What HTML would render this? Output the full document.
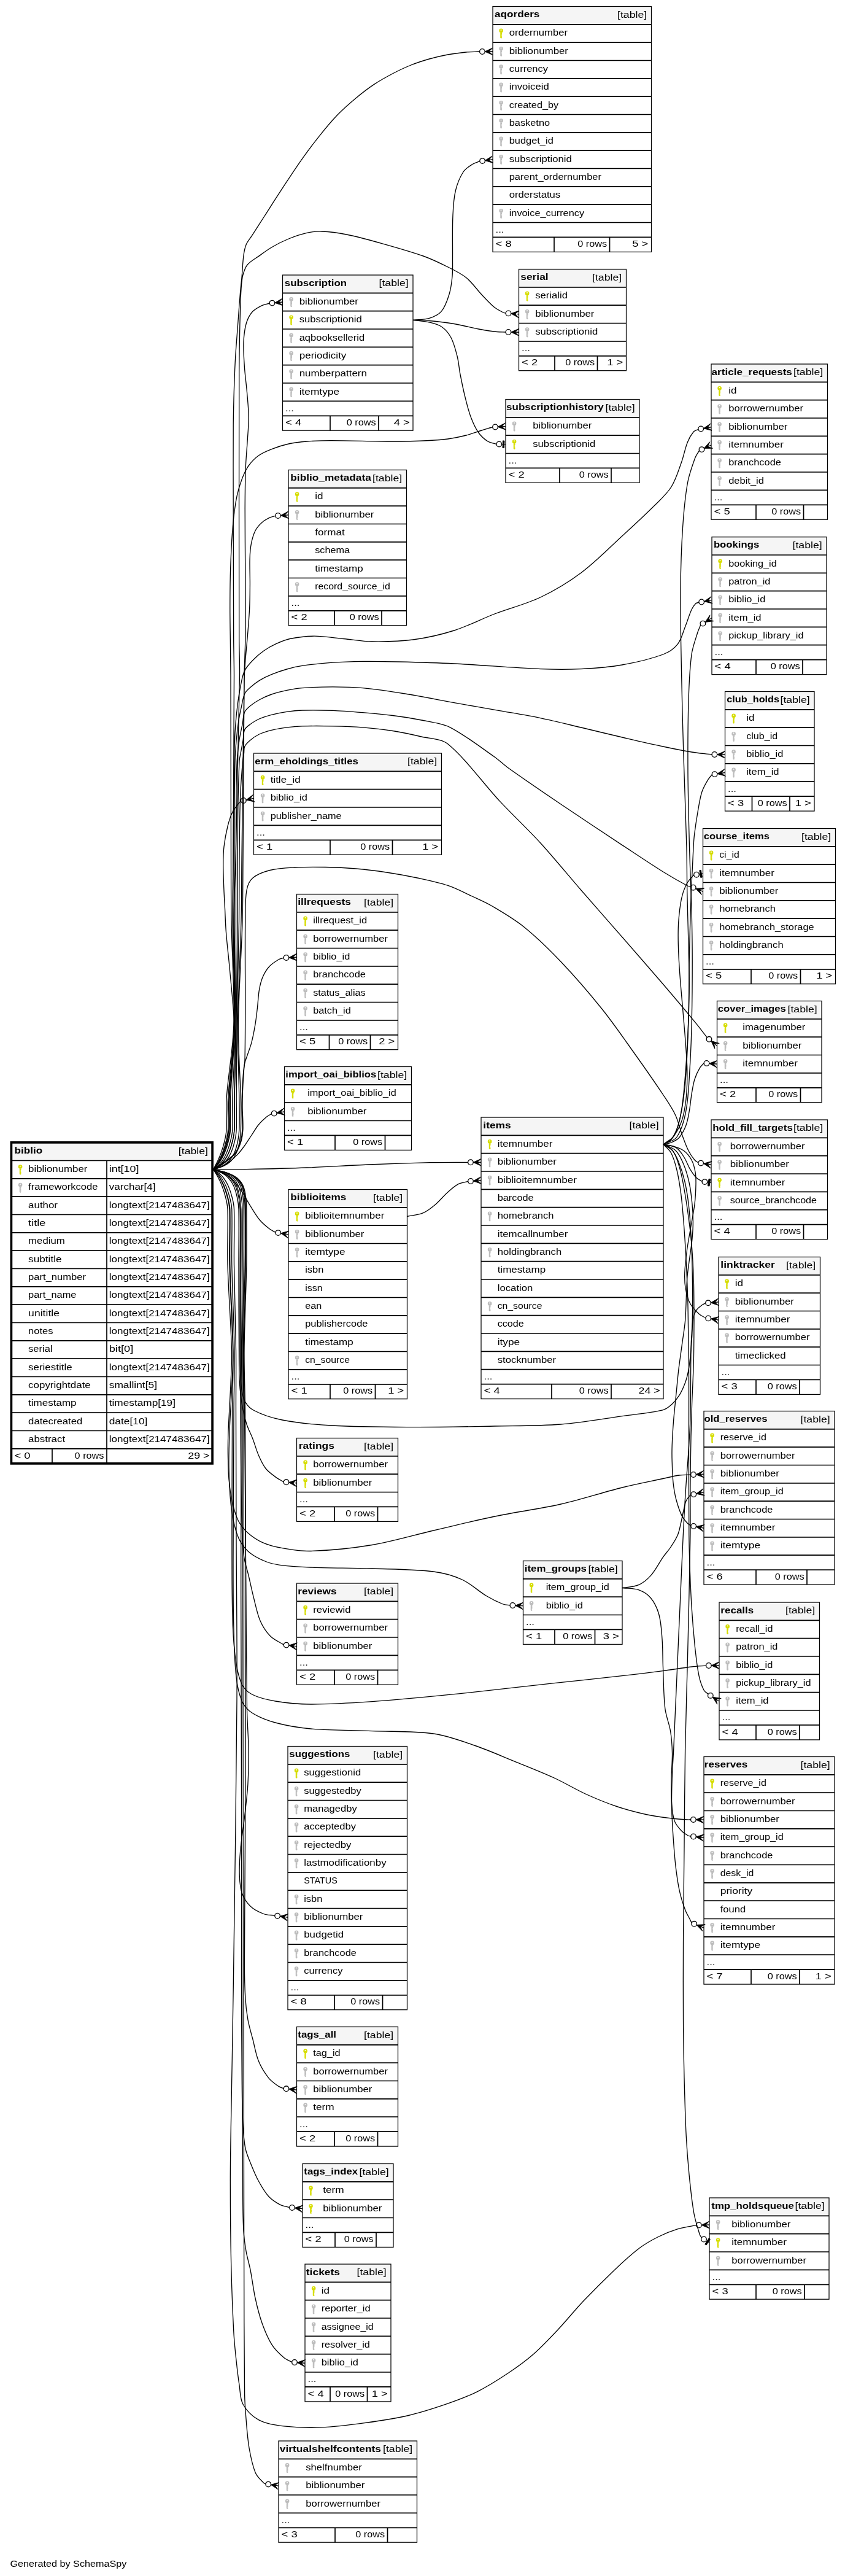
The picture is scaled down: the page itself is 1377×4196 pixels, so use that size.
<!DOCTYPE html>
<html><head><meta charset="utf-8"><title>biblio</title>
<style>html,body{margin:0;padding:0;background:#fff}svg{display:block;will-change:transform}text{font-family:"Liberation Sans",sans-serif;font-size:15.2px;fill:#000}.b{font-weight:bold}.s{fill:none;stroke:#000;stroke-width:1.7}.o{fill:none;stroke:#000;stroke-width:1.25}.e{fill:none;stroke:#000;stroke-width:1.33}.a{fill:#000;stroke:#000;stroke-width:1;stroke-linejoin:miter}.c{fill:none;stroke:#000;stroke-width:1.33}</style></head><body>
<svg width="1377" height="4196" viewBox="0 0 1377 4196">
<rect width="1377" height="4196" fill="#fff"/>
<g>
<rect x="18.5" y="1861.2" width="327.5" height="522.7" fill="#fff"/>
<rect x="18.5" y="1861.2" width="327.5" height="29.3" fill="#f5f5f5"/>
<path class="s" d="M18.5 1890.5H346M18.5 1919.9H346M18.5 1949.2H346M18.5 1978.5H346M18.5 2007.9H346M18.5 2037.2H346M18.5 2066.5H346M18.5 2095.9H346M18.5 2125.2H346M18.5 2154.5H346M18.5 2183.9H346M18.5 2213.2H346M18.5 2242.5H346M18.5 2271.9H346M18.5 2301.2H346M18.5 2330.5H346M18.5 2359.9H346M174 1890.5V2383.9M85 2359.9V2383.9"/>
<rect x="18.4" y="1860.9" width="327.7" height="523" fill="none" stroke="#000" stroke-width="3.7"/>
<text class="b" x="23.5" y="1879" textLength="45.7" lengthAdjust="spacingAndGlyphs">biblio</text>
<text class="r" x="290.8" y="1879.8" textLength="48.2" lengthAdjust="spacingAndGlyphs">[table]</text>
<path fill="#d6dd00" d="M29.8 1900.6a3.3 3.3 0 1 1 6.6 0a3.3 3.3 0 1 1-6.6 0zm2.25-1a.95.95 0 1 0 1.9 0a.95.95 0 1 0-1.9 0zm-.3 3.4h2.7v3.2h-.7v.8h.7v1.3h-.7v.8h.7v1.3h-.7v.8h.7v1.2l-1.1 1.1l-1.6-1.1z"/>
<text class="r" x="46.1" y="1909" textLength="96.3" lengthAdjust="spacingAndGlyphs">biblionumber</text>
<text class="r" x="177.7" y="1909" textLength="48.8" lengthAdjust="spacingAndGlyphs">int[10]</text>
<path fill="#bdbdbd" d="M29.8 1930a3.3 3.3 0 1 1 6.6 0a3.3 3.3 0 1 1-6.6 0zm2.25-1a.95.95 0 1 0 1.9 0a.95.95 0 1 0-1.9 0zm-.3 3.4h2.7v3.2h-.7v.8h.7v1.3h-.7v.8h.7v1.3h-.7v.8h.7v1.2l-1.1 1.1l-1.6-1.1z"/>
<text class="r" x="46.1" y="1938.4" textLength="113.4" lengthAdjust="spacingAndGlyphs">frameworkcode</text>
<text class="r" x="177.7" y="1938.4" textLength="75.9" lengthAdjust="spacingAndGlyphs">varchar[4]</text>
<text class="r" x="46.1" y="1967.7" textLength="47.9" lengthAdjust="spacingAndGlyphs">author</text>
<text class="r" x="177.7" y="1967.7" textLength="164" lengthAdjust="spacingAndGlyphs">longtext[2147483647]</text>
<text class="r" x="46.1" y="1997" textLength="28.4" lengthAdjust="spacingAndGlyphs">title</text>
<text class="r" x="177.7" y="1997" textLength="164" lengthAdjust="spacingAndGlyphs">longtext[2147483647]</text>
<text class="r" x="46.1" y="2026.4" textLength="59.8" lengthAdjust="spacingAndGlyphs">medium</text>
<text class="r" x="177.7" y="2026.4" textLength="164" lengthAdjust="spacingAndGlyphs">longtext[2147483647]</text>
<text class="r" x="46.1" y="2055.7" textLength="54.5" lengthAdjust="spacingAndGlyphs">subtitle</text>
<text class="r" x="177.7" y="2055.7" textLength="164" lengthAdjust="spacingAndGlyphs">longtext[2147483647]</text>
<text class="r" x="46.1" y="2085" textLength="93.9" lengthAdjust="spacingAndGlyphs">part_number</text>
<text class="r" x="177.7" y="2085" textLength="164" lengthAdjust="spacingAndGlyphs">longtext[2147483647]</text>
<text class="r" x="46.1" y="2114.4" textLength="78.4" lengthAdjust="spacingAndGlyphs">part_name</text>
<text class="r" x="177.7" y="2114.4" textLength="164" lengthAdjust="spacingAndGlyphs">longtext[2147483647]</text>
<text class="r" x="46.1" y="2143.7" textLength="50.9" lengthAdjust="spacingAndGlyphs">unititle</text>
<text class="r" x="177.7" y="2143.7" textLength="164" lengthAdjust="spacingAndGlyphs">longtext[2147483647]</text>
<text class="r" x="46.1" y="2173" textLength="40.4" lengthAdjust="spacingAndGlyphs">notes</text>
<text class="r" x="177.7" y="2173" textLength="164" lengthAdjust="spacingAndGlyphs">longtext[2147483647]</text>
<text class="r" x="46.1" y="2202.4" textLength="39.5" lengthAdjust="spacingAndGlyphs">serial</text>
<text class="r" x="177.7" y="2202.4" textLength="39.6" lengthAdjust="spacingAndGlyphs">bit[0]</text>
<text class="r" x="46.1" y="2231.7" textLength="71.5" lengthAdjust="spacingAndGlyphs">seriestitle</text>
<text class="r" x="177.7" y="2231.7" textLength="164" lengthAdjust="spacingAndGlyphs">longtext[2147483647]</text>
<text class="r" x="46.1" y="2261" textLength="101.7" lengthAdjust="spacingAndGlyphs">copyrightdate</text>
<text class="r" x="177.7" y="2261" textLength="78.3" lengthAdjust="spacingAndGlyphs">smallint[5]</text>
<text class="r" x="46.1" y="2290.4" textLength="78.5" lengthAdjust="spacingAndGlyphs">timestamp</text>
<text class="r" x="177.7" y="2290.4" textLength="108.3" lengthAdjust="spacingAndGlyphs">timestamp[19]</text>
<text class="r" x="46.1" y="2319.7" textLength="88.2" lengthAdjust="spacingAndGlyphs">datecreated</text>
<text class="r" x="177.7" y="2319.7" textLength="62.7" lengthAdjust="spacingAndGlyphs">date[10]</text>
<text class="r" x="46.1" y="2349" textLength="60" lengthAdjust="spacingAndGlyphs">abstract</text>
<text class="r" x="177.7" y="2349" textLength="164" lengthAdjust="spacingAndGlyphs">longtext[2147483647]</text>
<text class="r" x="23.5" y="2376.2" textLength="26.1" lengthAdjust="spacingAndGlyphs">&lt; 0</text>
<text class="r" x="121.6" y="2376.2" textLength="47.9" lengthAdjust="spacingAndGlyphs">0 rows</text>
<text class="r" x="306.2" y="2376.2" textLength="35.3" lengthAdjust="spacingAndGlyphs">29 &gt;</text>
</g>
<g>
<rect x="803" y="10.5" width="258.5" height="399.9" fill="#fff"/>
<rect x="803" y="10.5" width="258.5" height="29.3" fill="#f5f5f5"/>
<path class="s" d="M803 39.8H1061.5M803 69.2H1061.5M803 98.5H1061.5M803 127.8H1061.5M803 157.2H1061.5M803 186.5H1061.5M803 215.8H1061.5M803 245.2H1061.5M803 274.5H1061.5M803 303.8H1061.5M803 333.2H1061.5M803 362.5H1061.5M803 386.4H1061.5M903 386.4V410.4M993.5 386.4V410.4"/>
<rect class="o" x="803" y="10.5" width="258.5" height="399.9"/>
<text class="b" x="806.1" y="28.1" textLength="73.3" lengthAdjust="spacingAndGlyphs">aqorders</text>
<text class="r" x="1006" y="28.9" textLength="48.2" lengthAdjust="spacingAndGlyphs">[table]</text>
<path fill="#d6dd00" d="M813.3 49.9a3.3 3.3 0 1 1 6.6 0a3.3 3.3 0 1 1-6.6 0zm2.25-1a.95.95 0 1 0 1.9 0a.95.95 0 1 0-1.9 0zm-.3 3.4h2.7v3.2h-.7v.8h.7v1.3h-.7v.8h.7v1.3h-.7v.8h.7v1.2l-1.1 1.1l-1.6-1.1z"/>
<text class="r" x="829.7" y="58.3" textLength="95.3" lengthAdjust="spacingAndGlyphs">ordernumber</text>
<path fill="#bdbdbd" d="M813.3 79.3a3.3 3.3 0 1 1 6.6 0a3.3 3.3 0 1 1-6.6 0zm2.25-1a.95.95 0 1 0 1.9 0a.95.95 0 1 0-1.9 0zm-.3 3.4h2.7v3.2h-.7v.8h.7v1.3h-.7v.8h.7v1.3h-.7v.8h.7v1.2l-1.1 1.1l-1.6-1.1z"/>
<text class="r" x="829.7" y="87.7" textLength="96.3" lengthAdjust="spacingAndGlyphs">biblionumber</text>
<path fill="#bdbdbd" d="M813.3 108.6a3.3 3.3 0 1 1 6.6 0a3.3 3.3 0 1 1-6.6 0zm2.25-1a.95.95 0 1 0 1.9 0a.95.95 0 1 0-1.9 0zm-.3 3.4h2.7v3.2h-.7v.8h.7v1.3h-.7v.8h.7v1.3h-.7v.8h.7v1.2l-1.1 1.1l-1.6-1.1z"/>
<text class="r" x="829.7" y="117" textLength="63.4" lengthAdjust="spacingAndGlyphs">currency</text>
<path fill="#bdbdbd" d="M813.3 137.9a3.3 3.3 0 1 1 6.6 0a3.3 3.3 0 1 1-6.6 0zm2.25-1a.95.95 0 1 0 1.9 0a.95.95 0 1 0-1.9 0zm-.3 3.4h2.7v3.2h-.7v.8h.7v1.3h-.7v.8h.7v1.3h-.7v.8h.7v1.2l-1.1 1.1l-1.6-1.1z"/>
<text class="r" x="829.7" y="146.3" textLength="65" lengthAdjust="spacingAndGlyphs">invoiceid</text>
<path fill="#bdbdbd" d="M813.3 167.3a3.3 3.3 0 1 1 6.6 0a3.3 3.3 0 1 1-6.6 0zm2.25-1a.95.95 0 1 0 1.9 0a.95.95 0 1 0-1.9 0zm-.3 3.4h2.7v3.2h-.7v.8h.7v1.3h-.7v.8h.7v1.3h-.7v.8h.7v1.2l-1.1 1.1l-1.6-1.1z"/>
<text class="r" x="829.7" y="175.7" textLength="80.5" lengthAdjust="spacingAndGlyphs">created_by</text>
<path fill="#bdbdbd" d="M813.3 196.6a3.3 3.3 0 1 1 6.6 0a3.3 3.3 0 1 1-6.6 0zm2.25-1a.95.95 0 1 0 1.9 0a.95.95 0 1 0-1.9 0zm-.3 3.4h2.7v3.2h-.7v.8h.7v1.3h-.7v.8h.7v1.3h-.7v.8h.7v1.2l-1.1 1.1l-1.6-1.1z"/>
<text class="r" x="829.7" y="205" textLength="66.4" lengthAdjust="spacingAndGlyphs">basketno</text>
<path fill="#bdbdbd" d="M813.3 225.9a3.3 3.3 0 1 1 6.6 0a3.3 3.3 0 1 1-6.6 0zm2.25-1a.95.95 0 1 0 1.9 0a.95.95 0 1 0-1.9 0zm-.3 3.4h2.7v3.2h-.7v.8h.7v1.3h-.7v.8h.7v1.3h-.7v.8h.7v1.2l-1.1 1.1l-1.6-1.1z"/>
<text class="r" x="829.7" y="234.3" textLength="72.1" lengthAdjust="spacingAndGlyphs">budget_id</text>
<path fill="#bdbdbd" d="M813.3 255.3a3.3 3.3 0 1 1 6.6 0a3.3 3.3 0 1 1-6.6 0zm2.25-1a.95.95 0 1 0 1.9 0a.95.95 0 1 0-1.9 0zm-.3 3.4h2.7v3.2h-.7v.8h.7v1.3h-.7v.8h.7v1.3h-.7v.8h.7v1.2l-1.1 1.1l-1.6-1.1z"/>
<text class="r" x="829.7" y="263.7" textLength="102" lengthAdjust="spacingAndGlyphs">subscriptionid</text>
<text class="r" x="829.7" y="293" textLength="150.3" lengthAdjust="spacingAndGlyphs">parent_ordernumber</text>
<text class="r" x="829.7" y="322.3" textLength="83.5" lengthAdjust="spacingAndGlyphs">orderstatus</text>
<path fill="#bdbdbd" d="M813.3 343.3a3.3 3.3 0 1 1 6.6 0a3.3 3.3 0 1 1-6.6 0zm2.25-1a.95.95 0 1 0 1.9 0a.95.95 0 1 0-1.9 0zm-.3 3.4h2.7v3.2h-.7v.8h.7v1.3h-.7v.8h.7v1.3h-.7v.8h.7v1.2l-1.1 1.1l-1.6-1.1z"/>
<text class="r" x="829.7" y="351.7" textLength="122.4" lengthAdjust="spacingAndGlyphs">invoice_currency</text>
<text class="r" x="807.6" y="378.8" textLength="13.9" lengthAdjust="spacingAndGlyphs">...</text>
<text class="r" x="807.6" y="402" textLength="26.1" lengthAdjust="spacingAndGlyphs">&lt; 8</text>
<text class="r" x="941.3" y="402" textLength="47.9" lengthAdjust="spacingAndGlyphs">0 rows</text>
<text class="r" x="1030.2" y="402" textLength="26.1" lengthAdjust="spacingAndGlyphs">5 &gt;</text>
</g>
<g>
<rect x="845.5" y="438.5" width="175" height="165.2" fill="#fff"/>
<rect x="845.5" y="438.5" width="175" height="29.3" fill="#f5f5f5"/>
<path class="s" d="M845.5 467.8H1020.5M845.5 497.2H1020.5M845.5 526.5H1020.5M845.5 555.8H1020.5M845.5 579.8H1020.5M904 579.8V603.7M973.5 579.8V603.7"/>
<rect class="o" x="845.5" y="438.5" width="175" height="165.2"/>
<text class="b" x="848.3" y="456.1" textLength="45.4" lengthAdjust="spacingAndGlyphs">serial</text>
<text class="r" x="965" y="456.9" textLength="48.2" lengthAdjust="spacingAndGlyphs">[table]</text>
<path fill="#d6dd00" d="M855.8 477.9a3.3 3.3 0 1 1 6.6 0a3.3 3.3 0 1 1-6.6 0zm2.25-1a.95.95 0 1 0 1.9 0a.95.95 0 1 0-1.9 0zm-.3 3.4h2.7v3.2h-.7v.8h.7v1.3h-.7v.8h.7v1.3h-.7v.8h.7v1.2l-1.1 1.1l-1.6-1.1z"/>
<text class="r" x="872.2" y="486.3" textLength="52.8" lengthAdjust="spacingAndGlyphs">serialid</text>
<path fill="#bdbdbd" d="M855.8 507.3a3.3 3.3 0 1 1 6.6 0a3.3 3.3 0 1 1-6.6 0zm2.25-1a.95.95 0 1 0 1.9 0a.95.95 0 1 0-1.9 0zm-.3 3.4h2.7v3.2h-.7v.8h.7v1.3h-.7v.8h.7v1.3h-.7v.8h.7v1.2l-1.1 1.1l-1.6-1.1z"/>
<text class="r" x="872.2" y="515.7" textLength="96.3" lengthAdjust="spacingAndGlyphs">biblionumber</text>
<path fill="#bdbdbd" d="M855.8 536.6a3.3 3.3 0 1 1 6.6 0a3.3 3.3 0 1 1-6.6 0zm2.25-1a.95.95 0 1 0 1.9 0a.95.95 0 1 0-1.9 0zm-.3 3.4h2.7v3.2h-.7v.8h.7v1.3h-.7v.8h.7v1.3h-.7v.8h.7v1.2l-1.1 1.1l-1.6-1.1z"/>
<text class="r" x="872.2" y="545" textLength="102" lengthAdjust="spacingAndGlyphs">subscriptionid</text>
<text class="r" x="850.1" y="572.1" textLength="13.9" lengthAdjust="spacingAndGlyphs">...</text>
<text class="r" x="850.1" y="595.4" textLength="26.1" lengthAdjust="spacingAndGlyphs">&lt; 2</text>
<text class="r" x="921.3" y="595.4" textLength="47.9" lengthAdjust="spacingAndGlyphs">0 rows</text>
<text class="r" x="989.2" y="595.4" textLength="26.1" lengthAdjust="spacingAndGlyphs">1 &gt;</text>
</g>
<g>
<rect x="460.5" y="448" width="212.5" height="253.2" fill="#fff"/>
<rect x="460.5" y="448" width="212.5" height="29.3" fill="#f5f5f5"/>
<path class="s" d="M460.5 477.3H673M460.5 506.7H673M460.5 536H673M460.5 565.3H673M460.5 594.7H673M460.5 624H673M460.5 653.3H673M460.5 677.3H673M538 677.3V701.2M617 677.3V701.2"/>
<rect class="o" x="460.5" y="448" width="212.5" height="253.2"/>
<text class="b" x="463.8" y="465.6" textLength="101.3" lengthAdjust="spacingAndGlyphs">subscription</text>
<text class="r" x="617.5" y="466.4" textLength="48.2" lengthAdjust="spacingAndGlyphs">[table]</text>
<path fill="#bdbdbd" d="M471.3 487.4a3.3 3.3 0 1 1 6.6 0a3.3 3.3 0 1 1-6.6 0zm2.25-1a.95.95 0 1 0 1.9 0a.95.95 0 1 0-1.9 0zm-.3 3.4h2.7v3.2h-.7v.8h.7v1.3h-.7v.8h.7v1.3h-.7v.8h.7v1.2l-1.1 1.1l-1.6-1.1z"/>
<text class="r" x="487.7" y="495.8" textLength="96.3" lengthAdjust="spacingAndGlyphs">biblionumber</text>
<path fill="#d6dd00" d="M471.3 516.8a3.3 3.3 0 1 1 6.6 0a3.3 3.3 0 1 1-6.6 0zm2.25-1a.95.95 0 1 0 1.9 0a.95.95 0 1 0-1.9 0zm-.3 3.4h2.7v3.2h-.7v.8h.7v1.3h-.7v.8h.7v1.3h-.7v.8h.7v1.2l-1.1 1.1l-1.6-1.1z"/>
<text class="r" x="487.7" y="525.2" textLength="102" lengthAdjust="spacingAndGlyphs">subscriptionid</text>
<path fill="#bdbdbd" d="M471.3 546.1a3.3 3.3 0 1 1 6.6 0a3.3 3.3 0 1 1-6.6 0zm2.25-1a.95.95 0 1 0 1.9 0a.95.95 0 1 0-1.9 0zm-.3 3.4h2.7v3.2h-.7v.8h.7v1.3h-.7v.8h.7v1.3h-.7v.8h.7v1.2l-1.1 1.1l-1.6-1.1z"/>
<text class="r" x="487.7" y="554.5" textLength="106.4" lengthAdjust="spacingAndGlyphs">aqbooksellerid</text>
<path fill="#bdbdbd" d="M471.3 575.4a3.3 3.3 0 1 1 6.6 0a3.3 3.3 0 1 1-6.6 0zm2.25-1a.95.95 0 1 0 1.9 0a.95.95 0 1 0-1.9 0zm-.3 3.4h2.7v3.2h-.7v.8h.7v1.3h-.7v.8h.7v1.3h-.7v.8h.7v1.2l-1.1 1.1l-1.6-1.1z"/>
<text class="r" x="487.7" y="583.8" textLength="76.7" lengthAdjust="spacingAndGlyphs">periodicity</text>
<path fill="#bdbdbd" d="M471.3 604.8a3.3 3.3 0 1 1 6.6 0a3.3 3.3 0 1 1-6.6 0zm2.25-1a.95.95 0 1 0 1.9 0a.95.95 0 1 0-1.9 0zm-.3 3.4h2.7v3.2h-.7v.8h.7v1.3h-.7v.8h.7v1.3h-.7v.8h.7v1.2l-1.1 1.1l-1.6-1.1z"/>
<text class="r" x="487.7" y="613.2" textLength="110.2" lengthAdjust="spacingAndGlyphs">numberpattern</text>
<path fill="#bdbdbd" d="M471.3 634.1a3.3 3.3 0 1 1 6.6 0a3.3 3.3 0 1 1-6.6 0zm2.25-1a.95.95 0 1 0 1.9 0a.95.95 0 1 0-1.9 0zm-.3 3.4h2.7v3.2h-.7v.8h.7v1.3h-.7v.8h.7v1.3h-.7v.8h.7v1.2l-1.1 1.1l-1.6-1.1z"/>
<text class="r" x="487.7" y="642.5" textLength="65.4" lengthAdjust="spacingAndGlyphs">itemtype</text>
<text class="r" x="465.1" y="669.6" textLength="13.9" lengthAdjust="spacingAndGlyphs">...</text>
<text class="r" x="465.1" y="692.9" textLength="26.1" lengthAdjust="spacingAndGlyphs">&lt; 4</text>
<text class="r" x="564.8" y="692.9" textLength="47.9" lengthAdjust="spacingAndGlyphs">0 rows</text>
<text class="r" x="641.7" y="692.9" textLength="26.1" lengthAdjust="spacingAndGlyphs">4 &gt;</text>
</g>
<g>
<rect x="824" y="650.5" width="218" height="135.9" fill="#fff"/>
<rect x="824" y="650.5" width="218" height="29.3" fill="#f5f5f5"/>
<path class="s" d="M824 679.8H1042M824 709.2H1042M824 738.5H1042M824 762.4H1042M912 762.4V786.4M996 762.4V786.4"/>
<rect class="o" x="824" y="650.5" width="218" height="135.9"/>
<text class="b" x="825.1" y="668.1" textLength="158.7" lengthAdjust="spacingAndGlyphs">subscriptionhistory</text>
<text class="r" x="986.5" y="668.9" textLength="48.2" lengthAdjust="spacingAndGlyphs">[table]</text>
<path fill="#bdbdbd" d="M834.8 689.9a3.3 3.3 0 1 1 6.6 0a3.3 3.3 0 1 1-6.6 0zm2.25-1a.95.95 0 1 0 1.9 0a.95.95 0 1 0-1.9 0zm-.3 3.4h2.7v3.2h-.7v.8h.7v1.3h-.7v.8h.7v1.3h-.7v.8h.7v1.2l-1.1 1.1l-1.6-1.1z"/>
<text class="r" x="868.2" y="698.3" textLength="96.3" lengthAdjust="spacingAndGlyphs">biblionumber</text>
<path fill="#d6dd00" d="M834.8 719.3a3.3 3.3 0 1 1 6.6 0a3.3 3.3 0 1 1-6.6 0zm2.25-1a.95.95 0 1 0 1.9 0a.95.95 0 1 0-1.9 0zm-.3 3.4h2.7v3.2h-.7v.8h.7v1.3h-.7v.8h.7v1.3h-.7v.8h.7v1.2l-1.1 1.1l-1.6-1.1z"/>
<text class="r" x="868.2" y="727.7" textLength="102" lengthAdjust="spacingAndGlyphs">subscriptionid</text>
<text class="r" x="828.6" y="754.8" textLength="13.9" lengthAdjust="spacingAndGlyphs">...</text>
<text class="r" x="828.6" y="778" textLength="26.1" lengthAdjust="spacingAndGlyphs">&lt; 2</text>
<text class="r" x="943.8" y="778" textLength="47.9" lengthAdjust="spacingAndGlyphs">0 rows</text>
</g>
<g>
<rect x="470" y="765.5" width="192.5" height="253.2" fill="#fff"/>
<rect x="470" y="765.5" width="192.5" height="29.3" fill="#f5f5f5"/>
<path class="s" d="M470 794.8H662.5M470 824.2H662.5M470 853.5H662.5M470 882.8H662.5M470 912.2H662.5M470 941.5H662.5M470 970.8H662.5M470 994.8H662.5M545 994.8V1018.7M622 994.8V1018.7"/>
<rect class="o" x="470" y="765.5" width="192.5" height="253.2"/>
<text class="b" x="473.3" y="783.1" textLength="131.5" lengthAdjust="spacingAndGlyphs">biblio_metadata</text>
<text class="r" x="607" y="783.9" textLength="48.2" lengthAdjust="spacingAndGlyphs">[table]</text>
<path fill="#d6dd00" d="M480.8 804.9a3.3 3.3 0 1 1 6.6 0a3.3 3.3 0 1 1-6.6 0zm2.25-1a.95.95 0 1 0 1.9 0a.95.95 0 1 0-1.9 0zm-.3 3.4h2.7v3.2h-.7v.8h.7v1.3h-.7v.8h.7v1.3h-.7v.8h.7v1.2l-1.1 1.1l-1.6-1.1z"/>
<text class="r" x="513.2" y="813.3" textLength="13.3" lengthAdjust="spacingAndGlyphs">id</text>
<path fill="#bdbdbd" d="M480.8 834.3a3.3 3.3 0 1 1 6.6 0a3.3 3.3 0 1 1-6.6 0zm2.25-1a.95.95 0 1 0 1.9 0a.95.95 0 1 0-1.9 0zm-.3 3.4h2.7v3.2h-.7v.8h.7v1.3h-.7v.8h.7v1.3h-.7v.8h.7v1.2l-1.1 1.1l-1.6-1.1z"/>
<text class="r" x="513.2" y="842.7" textLength="96.3" lengthAdjust="spacingAndGlyphs">biblionumber</text>
<text class="r" x="513.2" y="872" textLength="48.5" lengthAdjust="spacingAndGlyphs">format</text>
<text class="r" x="513.2" y="901.3" textLength="56.8" lengthAdjust="spacingAndGlyphs">schema</text>
<text class="r" x="513.2" y="930.7" textLength="78.5" lengthAdjust="spacingAndGlyphs">timestamp</text>
<path fill="#bdbdbd" d="M480.8 951.6a3.3 3.3 0 1 1 6.6 0a3.3 3.3 0 1 1-6.6 0zm2.25-1a.95.95 0 1 0 1.9 0a.95.95 0 1 0-1.9 0zm-.3 3.4h2.7v3.2h-.7v.8h.7v1.3h-.7v.8h.7v1.3h-.7v.8h.7v1.2l-1.1 1.1l-1.6-1.1z"/>
<text class="r" x="513.2" y="960" textLength="122.6" lengthAdjust="spacingAndGlyphs">record_source_id</text>
<text class="r" x="474.6" y="987.1" textLength="13.9" lengthAdjust="spacingAndGlyphs">...</text>
<text class="r" x="474.6" y="1010.4" textLength="26.1" lengthAdjust="spacingAndGlyphs">&lt; 2</text>
<text class="r" x="569.8" y="1010.4" textLength="47.9" lengthAdjust="spacingAndGlyphs">0 rows</text>
</g>
<g>
<rect x="1159" y="593" width="189.5" height="253.2" fill="#fff"/>
<rect x="1159" y="593" width="189.5" height="29.3" fill="#f5f5f5"/>
<path class="s" d="M1159 622.3H1348.5M1159 651.7H1348.5M1159 681H1348.5M1159 710.3H1348.5M1159 739.7H1348.5M1159 769H1348.5M1159 798.3H1348.5M1159 822.3H1348.5M1232 822.3V846.2M1309.5 822.3V846.2"/>
<rect class="o" x="1159" y="593" width="189.5" height="253.2"/>
<text class="b" x="1159.6" y="610.6" textLength="131.3" lengthAdjust="spacingAndGlyphs">article_requests</text>
<text class="r" x="1293" y="611.4" textLength="48.2" lengthAdjust="spacingAndGlyphs">[table]</text>
<path fill="#d6dd00" d="M1169.3 632.4a3.3 3.3 0 1 1 6.6 0a3.3 3.3 0 1 1-6.6 0zm2.25-1a.95.95 0 1 0 1.9 0a.95.95 0 1 0-1.9 0zm-.3 3.4h2.7v3.2h-.7v.8h.7v1.3h-.7v.8h.7v1.3h-.7v.8h.7v1.2l-1.1 1.1l-1.6-1.1z"/>
<text class="r" x="1187.2" y="640.8" textLength="13.3" lengthAdjust="spacingAndGlyphs">id</text>
<path fill="#bdbdbd" d="M1169.3 661.8a3.3 3.3 0 1 1 6.6 0a3.3 3.3 0 1 1-6.6 0zm2.25-1a.95.95 0 1 0 1.9 0a.95.95 0 1 0-1.9 0zm-.3 3.4h2.7v3.2h-.7v.8h.7v1.3h-.7v.8h.7v1.3h-.7v.8h.7v1.2l-1.1 1.1l-1.6-1.1z"/>
<text class="r" x="1187.2" y="670.2" textLength="121.8" lengthAdjust="spacingAndGlyphs">borrowernumber</text>
<path fill="#bdbdbd" d="M1169.3 691.1a3.3 3.3 0 1 1 6.6 0a3.3 3.3 0 1 1-6.6 0zm2.25-1a.95.95 0 1 0 1.9 0a.95.95 0 1 0-1.9 0zm-.3 3.4h2.7v3.2h-.7v.8h.7v1.3h-.7v.8h.7v1.3h-.7v.8h.7v1.2l-1.1 1.1l-1.6-1.1z"/>
<text class="r" x="1187.2" y="699.5" textLength="96.3" lengthAdjust="spacingAndGlyphs">biblionumber</text>
<path fill="#bdbdbd" d="M1169.3 720.4a3.3 3.3 0 1 1 6.6 0a3.3 3.3 0 1 1-6.6 0zm2.25-1a.95.95 0 1 0 1.9 0a.95.95 0 1 0-1.9 0zm-.3 3.4h2.7v3.2h-.7v.8h.7v1.3h-.7v.8h.7v1.3h-.7v.8h.7v1.2l-1.1 1.1l-1.6-1.1z"/>
<text class="r" x="1187.2" y="728.8" textLength="89.7" lengthAdjust="spacingAndGlyphs">itemnumber</text>
<path fill="#bdbdbd" d="M1169.3 749.8a3.3 3.3 0 1 1 6.6 0a3.3 3.3 0 1 1-6.6 0zm2.25-1a.95.95 0 1 0 1.9 0a.95.95 0 1 0-1.9 0zm-.3 3.4h2.7v3.2h-.7v.8h.7v1.3h-.7v.8h.7v1.3h-.7v.8h.7v1.2l-1.1 1.1l-1.6-1.1z"/>
<text class="r" x="1187.2" y="758.2" textLength="85.7" lengthAdjust="spacingAndGlyphs">branchcode</text>
<path fill="#bdbdbd" d="M1169.3 779.1a3.3 3.3 0 1 1 6.6 0a3.3 3.3 0 1 1-6.6 0zm2.25-1a.95.95 0 1 0 1.9 0a.95.95 0 1 0-1.9 0zm-.3 3.4h2.7v3.2h-.7v.8h.7v1.3h-.7v.8h.7v1.3h-.7v.8h.7v1.2l-1.1 1.1l-1.6-1.1z"/>
<text class="r" x="1187.2" y="787.5" textLength="57.7" lengthAdjust="spacingAndGlyphs">debit_id</text>
<text class="r" x="1163.6" y="814.6" textLength="13.9" lengthAdjust="spacingAndGlyphs">...</text>
<text class="r" x="1163.6" y="837.9" textLength="26.1" lengthAdjust="spacingAndGlyphs">&lt; 5</text>
<text class="r" x="1257.3" y="837.9" textLength="47.9" lengthAdjust="spacingAndGlyphs">0 rows</text>
</g>
<g>
<rect x="1160" y="874.7" width="187" height="223.9" fill="#fff"/>
<rect x="1160" y="874.7" width="187" height="29.3" fill="#f5f5f5"/>
<path class="s" d="M1160 904H1347M1160 933.4H1347M1160 962.7H1347M1160 992H1347M1160 1021.4H1347M1160 1050.7H1347M1160 1074.6H1347M1232 1074.6V1098.6M1308 1074.6V1098.6"/>
<rect class="o" x="1160" y="874.7" width="187" height="223.9"/>
<text class="b" x="1162.9" y="892.3" textLength="74.3" lengthAdjust="spacingAndGlyphs">bookings</text>
<text class="r" x="1291.5" y="893.1" textLength="48.2" lengthAdjust="spacingAndGlyphs">[table]</text>
<path fill="#d6dd00" d="M1170.3 914.1a3.3 3.3 0 1 1 6.6 0a3.3 3.3 0 1 1-6.6 0zm2.25-1a.95.95 0 1 0 1.9 0a.95.95 0 1 0-1.9 0zm-.3 3.4h2.7v3.2h-.7v.8h.7v1.3h-.7v.8h.7v1.3h-.7v.8h.7v1.2l-1.1 1.1l-1.6-1.1z"/>
<text class="r" x="1187.2" y="922.5" textLength="78.5" lengthAdjust="spacingAndGlyphs">booking_id</text>
<path fill="#bdbdbd" d="M1170.3 943.5a3.3 3.3 0 1 1 6.6 0a3.3 3.3 0 1 1-6.6 0zm2.25-1a.95.95 0 1 0 1.9 0a.95.95 0 1 0-1.9 0zm-.3 3.4h2.7v3.2h-.7v.8h.7v1.3h-.7v.8h.7v1.3h-.7v.8h.7v1.2l-1.1 1.1l-1.6-1.1z"/>
<text class="r" x="1187.2" y="951.9" textLength="68.2" lengthAdjust="spacingAndGlyphs">patron_id</text>
<path fill="#bdbdbd" d="M1170.3 972.8a3.3 3.3 0 1 1 6.6 0a3.3 3.3 0 1 1-6.6 0zm2.25-1a.95.95 0 1 0 1.9 0a.95.95 0 1 0-1.9 0zm-.3 3.4h2.7v3.2h-.7v.8h.7v1.3h-.7v.8h.7v1.3h-.7v.8h.7v1.2l-1.1 1.1l-1.6-1.1z"/>
<text class="r" x="1187.2" y="981.2" textLength="60.1" lengthAdjust="spacingAndGlyphs">biblio_id</text>
<path fill="#bdbdbd" d="M1170.3 1002.1a3.3 3.3 0 1 1 6.6 0a3.3 3.3 0 1 1-6.6 0zm2.25-1a.95.95 0 1 0 1.9 0a.95.95 0 1 0-1.9 0zm-.3 3.4h2.7v3.2h-.7v.8h.7v1.3h-.7v.8h.7v1.3h-.7v.8h.7v1.2l-1.1 1.1l-1.6-1.1z"/>
<text class="r" x="1187.2" y="1010.5" textLength="53.4" lengthAdjust="spacingAndGlyphs">item_id</text>
<path fill="#bdbdbd" d="M1170.3 1031.5a3.3 3.3 0 1 1 6.6 0a3.3 3.3 0 1 1-6.6 0zm2.25-1a.95.95 0 1 0 1.9 0a.95.95 0 1 0-1.9 0zm-.3 3.4h2.7v3.2h-.7v.8h.7v1.3h-.7v.8h.7v1.3h-.7v.8h.7v1.2l-1.1 1.1l-1.6-1.1z"/>
<text class="r" x="1187.2" y="1039.9" textLength="122.3" lengthAdjust="spacingAndGlyphs">pickup_library_id</text>
<text class="r" x="1164.6" y="1067" textLength="13.9" lengthAdjust="spacingAndGlyphs">...</text>
<text class="r" x="1164.6" y="1090.2" textLength="26.1" lengthAdjust="spacingAndGlyphs">&lt; 4</text>
<text class="r" x="1255.8" y="1090.2" textLength="47.9" lengthAdjust="spacingAndGlyphs">0 rows</text>
</g>
<g>
<rect x="1181.5" y="1126.5" width="145.5" height="194.6" fill="#fff"/>
<rect x="1181.5" y="1126.5" width="145.5" height="29.3" fill="#f5f5f5"/>
<path class="s" d="M1181.5 1155.8H1327M1181.5 1185.2H1327M1181.5 1214.5H1327M1181.5 1243.8H1327M1181.5 1273.2H1327M1181.5 1297.1H1327M1225.5 1297.1V1321.1M1287 1297.1V1321.1"/>
<rect class="o" x="1181.5" y="1126.5" width="145.5" height="194.6"/>
<text class="b" x="1184.3" y="1144.1" textLength="85.8" lengthAdjust="spacingAndGlyphs">club_holds</text>
<text class="r" x="1271.5" y="1144.9" textLength="48.2" lengthAdjust="spacingAndGlyphs">[table]</text>
<path fill="#d6dd00" d="M1192.3 1165.9a3.3 3.3 0 1 1 6.6 0a3.3 3.3 0 1 1-6.6 0zm2.25-1a.95.95 0 1 0 1.9 0a.95.95 0 1 0-1.9 0zm-.3 3.4h2.7v3.2h-.7v.8h.7v1.3h-.7v.8h.7v1.3h-.7v.8h.7v1.2l-1.1 1.1l-1.6-1.1z"/>
<text class="r" x="1216.2" y="1174.3" textLength="13.3" lengthAdjust="spacingAndGlyphs">id</text>
<path fill="#bdbdbd" d="M1192.3 1195.3a3.3 3.3 0 1 1 6.6 0a3.3 3.3 0 1 1-6.6 0zm2.25-1a.95.95 0 1 0 1.9 0a.95.95 0 1 0-1.9 0zm-.3 3.4h2.7v3.2h-.7v.8h.7v1.3h-.7v.8h.7v1.3h-.7v.8h.7v1.2l-1.1 1.1l-1.6-1.1z"/>
<text class="r" x="1216.2" y="1203.7" textLength="51.1" lengthAdjust="spacingAndGlyphs">club_id</text>
<path fill="#bdbdbd" d="M1192.3 1224.6a3.3 3.3 0 1 1 6.6 0a3.3 3.3 0 1 1-6.6 0zm2.25-1a.95.95 0 1 0 1.9 0a.95.95 0 1 0-1.9 0zm-.3 3.4h2.7v3.2h-.7v.8h.7v1.3h-.7v.8h.7v1.3h-.7v.8h.7v1.2l-1.1 1.1l-1.6-1.1z"/>
<text class="r" x="1216.2" y="1233" textLength="60.1" lengthAdjust="spacingAndGlyphs">biblio_id</text>
<path fill="#bdbdbd" d="M1192.3 1253.9a3.3 3.3 0 1 1 6.6 0a3.3 3.3 0 1 1-6.6 0zm2.25-1a.95.95 0 1 0 1.9 0a.95.95 0 1 0-1.9 0zm-.3 3.4h2.7v3.2h-.7v.8h.7v1.3h-.7v.8h.7v1.3h-.7v.8h.7v1.2l-1.1 1.1l-1.6-1.1z"/>
<text class="r" x="1216.2" y="1262.3" textLength="53.4" lengthAdjust="spacingAndGlyphs">item_id</text>
<text class="r" x="1186.1" y="1289.5" textLength="13.9" lengthAdjust="spacingAndGlyphs">...</text>
<text class="r" x="1186.1" y="1312.7" textLength="26.1" lengthAdjust="spacingAndGlyphs">&lt; 3</text>
<text class="r" x="1234.8" y="1312.7" textLength="47.9" lengthAdjust="spacingAndGlyphs">0 rows</text>
<text class="r" x="1295.7" y="1312.7" textLength="26.1" lengthAdjust="spacingAndGlyphs">1 &gt;</text>
</g>
<g>
<rect x="413.5" y="1227" width="306" height="165.2" fill="#fff"/>
<rect x="413.5" y="1227" width="306" height="29.3" fill="#f5f5f5"/>
<path class="s" d="M413.5 1256.3H719.5M413.5 1285.7H719.5M413.5 1315H719.5M413.5 1344.3H719.5M413.5 1368.3H719.5M538 1368.3V1392.2M639.5 1368.3V1392.2"/>
<rect class="o" x="413.5" y="1227" width="306" height="165.2"/>
<text class="b" x="415.3" y="1244.6" textLength="168.7" lengthAdjust="spacingAndGlyphs">erm_eholdings_titles</text>
<text class="r" x="664" y="1245.4" textLength="48.2" lengthAdjust="spacingAndGlyphs">[table]</text>
<path fill="#d6dd00" d="M424.8 1266.4a3.3 3.3 0 1 1 6.6 0a3.3 3.3 0 1 1-6.6 0zm2.25-1a.95.95 0 1 0 1.9 0a.95.95 0 1 0-1.9 0zm-.3 3.4h2.7v3.2h-.7v.8h.7v1.3h-.7v.8h.7v1.3h-.7v.8h.7v1.2l-1.1 1.1l-1.6-1.1z"/>
<text class="r" x="440.7" y="1274.8" textLength="49" lengthAdjust="spacingAndGlyphs">title_id</text>
<path fill="#bdbdbd" d="M424.8 1295.8a3.3 3.3 0 1 1 6.6 0a3.3 3.3 0 1 1-6.6 0zm2.25-1a.95.95 0 1 0 1.9 0a.95.95 0 1 0-1.9 0zm-.3 3.4h2.7v3.2h-.7v.8h.7v1.3h-.7v.8h.7v1.3h-.7v.8h.7v1.2l-1.1 1.1l-1.6-1.1z"/>
<text class="r" x="440.7" y="1304.2" textLength="60.1" lengthAdjust="spacingAndGlyphs">biblio_id</text>
<path fill="#bdbdbd" d="M424.8 1325.1a3.3 3.3 0 1 1 6.6 0a3.3 3.3 0 1 1-6.6 0zm2.25-1a.95.95 0 1 0 1.9 0a.95.95 0 1 0-1.9 0zm-.3 3.4h2.7v3.2h-.7v.8h.7v1.3h-.7v.8h.7v1.3h-.7v.8h.7v1.2l-1.1 1.1l-1.6-1.1z"/>
<text class="r" x="440.7" y="1333.5" textLength="116" lengthAdjust="spacingAndGlyphs">publisher_name</text>
<text class="r" x="418.1" y="1360.6" textLength="13.9" lengthAdjust="spacingAndGlyphs">...</text>
<text class="r" x="418.1" y="1383.9" textLength="26.1" lengthAdjust="spacingAndGlyphs">&lt; 1</text>
<text class="r" x="587.3" y="1383.9" textLength="47.9" lengthAdjust="spacingAndGlyphs">0 rows</text>
<text class="r" x="688.2" y="1383.9" textLength="26.1" lengthAdjust="spacingAndGlyphs">1 &gt;</text>
</g>
<g>
<rect x="1145.5" y="1349.5" width="216" height="253.2" fill="#fff"/>
<rect x="1145.5" y="1349.5" width="216" height="29.3" fill="#f5f5f5"/>
<path class="s" d="M1145.5 1378.8H1361.5M1145.5 1408.2H1361.5M1145.5 1437.5H1361.5M1145.5 1466.8H1361.5M1145.5 1496.2H1361.5M1145.5 1525.5H1361.5M1145.5 1554.8H1361.5M1145.5 1578.8H1361.5M1224 1578.8V1602.7M1304.5 1578.8V1602.7"/>
<rect class="o" x="1145.5" y="1349.5" width="216" height="253.2"/>
<text class="b" x="1146.8" y="1367.1" textLength="107.3" lengthAdjust="spacingAndGlyphs">course_items</text>
<text class="r" x="1306" y="1367.9" textLength="48.2" lengthAdjust="spacingAndGlyphs">[table]</text>
<path fill="#d6dd00" d="M1155.8 1388.9a3.3 3.3 0 1 1 6.6 0a3.3 3.3 0 1 1-6.6 0zm2.25-1a.95.95 0 1 0 1.9 0a.95.95 0 1 0-1.9 0zm-.3 3.4h2.7v3.2h-.7v.8h.7v1.3h-.7v.8h.7v1.3h-.7v.8h.7v1.2l-1.1 1.1l-1.6-1.1z"/>
<text class="r" x="1172.2" y="1397.3" textLength="32.6" lengthAdjust="spacingAndGlyphs">ci_id</text>
<path fill="#bdbdbd" d="M1155.8 1418.3a3.3 3.3 0 1 1 6.6 0a3.3 3.3 0 1 1-6.6 0zm2.25-1a.95.95 0 1 0 1.9 0a.95.95 0 1 0-1.9 0zm-.3 3.4h2.7v3.2h-.7v.8h.7v1.3h-.7v.8h.7v1.3h-.7v.8h.7v1.2l-1.1 1.1l-1.6-1.1z"/>
<text class="r" x="1172.2" y="1426.7" textLength="89.7" lengthAdjust="spacingAndGlyphs">itemnumber</text>
<path fill="#bdbdbd" d="M1155.8 1447.6a3.3 3.3 0 1 1 6.6 0a3.3 3.3 0 1 1-6.6 0zm2.25-1a.95.95 0 1 0 1.9 0a.95.95 0 1 0-1.9 0zm-.3 3.4h2.7v3.2h-.7v.8h.7v1.3h-.7v.8h.7v1.3h-.7v.8h.7v1.2l-1.1 1.1l-1.6-1.1z"/>
<text class="r" x="1172.2" y="1456" textLength="96.3" lengthAdjust="spacingAndGlyphs">biblionumber</text>
<path fill="#bdbdbd" d="M1155.8 1476.9a3.3 3.3 0 1 1 6.6 0a3.3 3.3 0 1 1-6.6 0zm2.25-1a.95.95 0 1 0 1.9 0a.95.95 0 1 0-1.9 0zm-.3 3.4h2.7v3.2h-.7v.8h.7v1.3h-.7v.8h.7v1.3h-.7v.8h.7v1.2l-1.1 1.1l-1.6-1.1z"/>
<text class="r" x="1172.2" y="1485.3" textLength="91.8" lengthAdjust="spacingAndGlyphs">homebranch</text>
<path fill="#bdbdbd" d="M1155.8 1506.3a3.3 3.3 0 1 1 6.6 0a3.3 3.3 0 1 1-6.6 0zm2.25-1a.95.95 0 1 0 1.9 0a.95.95 0 1 0-1.9 0zm-.3 3.4h2.7v3.2h-.7v.8h.7v1.3h-.7v.8h.7v1.3h-.7v.8h.7v1.2l-1.1 1.1l-1.6-1.1z"/>
<text class="r" x="1172.2" y="1514.7" textLength="154.4" lengthAdjust="spacingAndGlyphs">homebranch_storage</text>
<path fill="#bdbdbd" d="M1155.8 1535.6a3.3 3.3 0 1 1 6.6 0a3.3 3.3 0 1 1-6.6 0zm2.25-1a.95.95 0 1 0 1.9 0a.95.95 0 1 0-1.9 0zm-.3 3.4h2.7v3.2h-.7v.8h.7v1.3h-.7v.8h.7v1.3h-.7v.8h.7v1.2l-1.1 1.1l-1.6-1.1z"/>
<text class="r" x="1172.2" y="1544" textLength="104.5" lengthAdjust="spacingAndGlyphs">holdingbranch</text>
<text class="r" x="1150.1" y="1571.1" textLength="13.9" lengthAdjust="spacingAndGlyphs">...</text>
<text class="r" x="1150.1" y="1594.4" textLength="26.1" lengthAdjust="spacingAndGlyphs">&lt; 5</text>
<text class="r" x="1252.3" y="1594.4" textLength="47.9" lengthAdjust="spacingAndGlyphs">0 rows</text>
<text class="r" x="1330.2" y="1594.4" textLength="26.1" lengthAdjust="spacingAndGlyphs">1 &gt;</text>
</g>
<g>
<rect x="483.5" y="1456.5" width="165" height="253.2" fill="#fff"/>
<rect x="483.5" y="1456.5" width="165" height="29.3" fill="#f5f5f5"/>
<path class="s" d="M483.5 1485.8H648.5M483.5 1515.2H648.5M483.5 1544.5H648.5M483.5 1573.8H648.5M483.5 1603.2H648.5M483.5 1632.5H648.5M483.5 1661.8H648.5M483.5 1685.8H648.5M536.5 1685.8V1709.7M603.5 1685.8V1709.7"/>
<rect class="o" x="483.5" y="1456.5" width="165" height="253.2"/>
<text class="b" x="485.3" y="1474.1" textLength="86.7" lengthAdjust="spacingAndGlyphs">illrequests</text>
<text class="r" x="593" y="1474.9" textLength="48.2" lengthAdjust="spacingAndGlyphs">[table]</text>
<path fill="#d6dd00" d="M494.3 1495.9a3.3 3.3 0 1 1 6.6 0a3.3 3.3 0 1 1-6.6 0zm2.25-1a.95.95 0 1 0 1.9 0a.95.95 0 1 0-1.9 0zm-.3 3.4h2.7v3.2h-.7v.8h.7v1.3h-.7v.8h.7v1.3h-.7v.8h.7v1.2l-1.1 1.1l-1.6-1.1z"/>
<text class="r" x="510.2" y="1504.3" textLength="88" lengthAdjust="spacingAndGlyphs">illrequest_id</text>
<path fill="#bdbdbd" d="M494.3 1525.3a3.3 3.3 0 1 1 6.6 0a3.3 3.3 0 1 1-6.6 0zm2.25-1a.95.95 0 1 0 1.9 0a.95.95 0 1 0-1.9 0zm-.3 3.4h2.7v3.2h-.7v.8h.7v1.3h-.7v.8h.7v1.3h-.7v.8h.7v1.2l-1.1 1.1l-1.6-1.1z"/>
<text class="r" x="510.2" y="1533.7" textLength="121.8" lengthAdjust="spacingAndGlyphs">borrowernumber</text>
<path fill="#bdbdbd" d="M494.3 1554.6a3.3 3.3 0 1 1 6.6 0a3.3 3.3 0 1 1-6.6 0zm2.25-1a.95.95 0 1 0 1.9 0a.95.95 0 1 0-1.9 0zm-.3 3.4h2.7v3.2h-.7v.8h.7v1.3h-.7v.8h.7v1.3h-.7v.8h.7v1.2l-1.1 1.1l-1.6-1.1z"/>
<text class="r" x="510.2" y="1563" textLength="60.1" lengthAdjust="spacingAndGlyphs">biblio_id</text>
<path fill="#bdbdbd" d="M494.3 1583.9a3.3 3.3 0 1 1 6.6 0a3.3 3.3 0 1 1-6.6 0zm2.25-1a.95.95 0 1 0 1.9 0a.95.95 0 1 0-1.9 0zm-.3 3.4h2.7v3.2h-.7v.8h.7v1.3h-.7v.8h.7v1.3h-.7v.8h.7v1.2l-1.1 1.1l-1.6-1.1z"/>
<text class="r" x="510.2" y="1592.3" textLength="85.7" lengthAdjust="spacingAndGlyphs">branchcode</text>
<path fill="#bdbdbd" d="M494.3 1613.3a3.3 3.3 0 1 1 6.6 0a3.3 3.3 0 1 1-6.6 0zm2.25-1a.95.95 0 1 0 1.9 0a.95.95 0 1 0-1.9 0zm-.3 3.4h2.7v3.2h-.7v.8h.7v1.3h-.7v.8h.7v1.3h-.7v.8h.7v1.2l-1.1 1.1l-1.6-1.1z"/>
<text class="r" x="510.2" y="1621.7" textLength="85.5" lengthAdjust="spacingAndGlyphs">status_alias</text>
<path fill="#bdbdbd" d="M494.3 1642.6a3.3 3.3 0 1 1 6.6 0a3.3 3.3 0 1 1-6.6 0zm2.25-1a.95.95 0 1 0 1.9 0a.95.95 0 1 0-1.9 0zm-.3 3.4h2.7v3.2h-.7v.8h.7v1.3h-.7v.8h.7v1.3h-.7v.8h.7v1.2l-1.1 1.1l-1.6-1.1z"/>
<text class="r" x="510.2" y="1651" textLength="61.6" lengthAdjust="spacingAndGlyphs">batch_id</text>
<text class="r" x="488.1" y="1678.1" textLength="13.9" lengthAdjust="spacingAndGlyphs">...</text>
<text class="r" x="488.1" y="1701.4" textLength="26.1" lengthAdjust="spacingAndGlyphs">&lt; 5</text>
<text class="r" x="551.3" y="1701.4" textLength="47.9" lengthAdjust="spacingAndGlyphs">0 rows</text>
<text class="r" x="617.2" y="1701.4" textLength="26.1" lengthAdjust="spacingAndGlyphs">2 &gt;</text>
</g>
<g>
<rect x="1168.5" y="1630.5" width="170.5" height="165.2" fill="#fff"/>
<rect x="1168.5" y="1630.5" width="170.5" height="29.3" fill="#f5f5f5"/>
<path class="s" d="M1168.5 1659.8H1339M1168.5 1689.2H1339M1168.5 1718.5H1339M1168.5 1747.8H1339M1168.5 1771.8H1339M1232 1771.8V1795.7M1304.5 1771.8V1795.7"/>
<rect class="o" x="1168.5" y="1630.5" width="170.5" height="165.2"/>
<text class="b" x="1169.8" y="1648.1" textLength="111" lengthAdjust="spacingAndGlyphs">cover_images</text>
<text class="r" x="1283.5" y="1648.9" textLength="48.2" lengthAdjust="spacingAndGlyphs">[table]</text>
<path fill="#d6dd00" d="M1178.8 1669.9a3.3 3.3 0 1 1 6.6 0a3.3 3.3 0 1 1-6.6 0zm2.25-1a.95.95 0 1 0 1.9 0a.95.95 0 1 0-1.9 0zm-.3 3.4h2.7v3.2h-.7v.8h.7v1.3h-.7v.8h.7v1.3h-.7v.8h.7v1.2l-1.1 1.1l-1.6-1.1z"/>
<text class="r" x="1210.2" y="1678.3" textLength="102.1" lengthAdjust="spacingAndGlyphs">imagenumber</text>
<path fill="#bdbdbd" d="M1178.8 1699.3a3.3 3.3 0 1 1 6.6 0a3.3 3.3 0 1 1-6.6 0zm2.25-1a.95.95 0 1 0 1.9 0a.95.95 0 1 0-1.9 0zm-.3 3.4h2.7v3.2h-.7v.8h.7v1.3h-.7v.8h.7v1.3h-.7v.8h.7v1.2l-1.1 1.1l-1.6-1.1z"/>
<text class="r" x="1210.2" y="1707.7" textLength="96.3" lengthAdjust="spacingAndGlyphs">biblionumber</text>
<path fill="#bdbdbd" d="M1178.8 1728.6a3.3 3.3 0 1 1 6.6 0a3.3 3.3 0 1 1-6.6 0zm2.25-1a.95.95 0 1 0 1.9 0a.95.95 0 1 0-1.9 0zm-.3 3.4h2.7v3.2h-.7v.8h.7v1.3h-.7v.8h.7v1.3h-.7v.8h.7v1.2l-1.1 1.1l-1.6-1.1z"/>
<text class="r" x="1210.2" y="1737" textLength="89.7" lengthAdjust="spacingAndGlyphs">itemnumber</text>
<text class="r" x="1173.1" y="1764.1" textLength="13.9" lengthAdjust="spacingAndGlyphs">...</text>
<text class="r" x="1173.1" y="1787.4" textLength="26.1" lengthAdjust="spacingAndGlyphs">&lt; 2</text>
<text class="r" x="1252.3" y="1787.4" textLength="47.9" lengthAdjust="spacingAndGlyphs">0 rows</text>
</g>
<g>
<rect x="463.5" y="1737.5" width="207" height="135.9" fill="#fff"/>
<rect x="463.5" y="1737.5" width="207" height="29.3" fill="#f5f5f5"/>
<path class="s" d="M463.5 1766.8H670.5M463.5 1796.2H670.5M463.5 1825.5H670.5M463.5 1849.4H670.5M546 1849.4V1873.4M627.5 1849.4V1873.4"/>
<rect class="o" x="463.5" y="1737.5" width="207" height="135.9"/>
<text class="b" x="465.3" y="1755.1" textLength="148" lengthAdjust="spacingAndGlyphs">import_oai_biblios</text>
<text class="r" x="615" y="1755.9" textLength="48.2" lengthAdjust="spacingAndGlyphs">[table]</text>
<path fill="#d6dd00" d="M473.8 1776.9a3.3 3.3 0 1 1 6.6 0a3.3 3.3 0 1 1-6.6 0zm2.25-1a.95.95 0 1 0 1.9 0a.95.95 0 1 0-1.9 0zm-.3 3.4h2.7v3.2h-.7v.8h.7v1.3h-.7v.8h.7v1.3h-.7v.8h.7v1.2l-1.1 1.1l-1.6-1.1z"/>
<text class="r" x="501.2" y="1785.3" textLength="144.5" lengthAdjust="spacingAndGlyphs">import_oai_biblio_id</text>
<path fill="#bdbdbd" d="M473.8 1806.3a3.3 3.3 0 1 1 6.6 0a3.3 3.3 0 1 1-6.6 0zm2.25-1a.95.95 0 1 0 1.9 0a.95.95 0 1 0-1.9 0zm-.3 3.4h2.7v3.2h-.7v.8h.7v1.3h-.7v.8h.7v1.3h-.7v.8h.7v1.2l-1.1 1.1l-1.6-1.1z"/>
<text class="r" x="501.2" y="1814.7" textLength="96.3" lengthAdjust="spacingAndGlyphs">biblionumber</text>
<text class="r" x="468.1" y="1841.8" textLength="13.9" lengthAdjust="spacingAndGlyphs">...</text>
<text class="r" x="468.1" y="1865" textLength="26.1" lengthAdjust="spacingAndGlyphs">&lt; 1</text>
<text class="r" x="575.3" y="1865" textLength="47.9" lengthAdjust="spacingAndGlyphs">0 rows</text>
</g>
<g>
<rect x="784" y="1820" width="297" height="458.6" fill="#fff"/>
<rect x="784" y="1820" width="297" height="29.3" fill="#f5f5f5"/>
<path class="s" d="M784 1849.3H1081M784 1878.7H1081M784 1908H1081M784 1937.3H1081M784 1966.7H1081M784 1996H1081M784 2025.3H1081M784 2054.7H1081M784 2084H1081M784 2113.3H1081M784 2142.7H1081M784 2172H1081M784 2201.3H1081M784 2230.7H1081M784 2254.6H1081M899 2254.6V2278.6M996 2254.6V2278.6"/>
<rect class="o" x="784" y="1820" width="297" height="458.6"/>
<text class="b" x="787.3" y="1837.6" textLength="45.5" lengthAdjust="spacingAndGlyphs">items</text>
<text class="r" x="1025.5" y="1838.4" textLength="48.2" lengthAdjust="spacingAndGlyphs">[table]</text>
<path fill="#d6dd00" d="M794.8 1859.4a3.3 3.3 0 1 1 6.6 0a3.3 3.3 0 1 1-6.6 0zm2.25-1a.95.95 0 1 0 1.9 0a.95.95 0 1 0-1.9 0zm-.3 3.4h2.7v3.2h-.7v.8h.7v1.3h-.7v.8h.7v1.3h-.7v.8h.7v1.2l-1.1 1.1l-1.6-1.1z"/>
<text class="r" x="810.7" y="1867.8" textLength="89.7" lengthAdjust="spacingAndGlyphs">itemnumber</text>
<path fill="#bdbdbd" d="M794.8 1888.8a3.3 3.3 0 1 1 6.6 0a3.3 3.3 0 1 1-6.6 0zm2.25-1a.95.95 0 1 0 1.9 0a.95.95 0 1 0-1.9 0zm-.3 3.4h2.7v3.2h-.7v.8h.7v1.3h-.7v.8h.7v1.3h-.7v.8h.7v1.2l-1.1 1.1l-1.6-1.1z"/>
<text class="r" x="810.7" y="1897.2" textLength="96.3" lengthAdjust="spacingAndGlyphs">biblionumber</text>
<path fill="#bdbdbd" d="M794.8 1918.1a3.3 3.3 0 1 1 6.6 0a3.3 3.3 0 1 1-6.6 0zm2.25-1a.95.95 0 1 0 1.9 0a.95.95 0 1 0-1.9 0zm-.3 3.4h2.7v3.2h-.7v.8h.7v1.3h-.7v.8h.7v1.3h-.7v.8h.7v1.2l-1.1 1.1l-1.6-1.1z"/>
<text class="r" x="810.7" y="1926.5" textLength="129.2" lengthAdjust="spacingAndGlyphs">biblioitemnumber</text>
<text class="r" x="810.7" y="1955.8" textLength="58.9" lengthAdjust="spacingAndGlyphs">barcode</text>
<path fill="#bdbdbd" d="M794.8 1976.8a3.3 3.3 0 1 1 6.6 0a3.3 3.3 0 1 1-6.6 0zm2.25-1a.95.95 0 1 0 1.9 0a.95.95 0 1 0-1.9 0zm-.3 3.4h2.7v3.2h-.7v.8h.7v1.3h-.7v.8h.7v1.3h-.7v.8h.7v1.2l-1.1 1.1l-1.6-1.1z"/>
<text class="r" x="810.7" y="1985.2" textLength="91.8" lengthAdjust="spacingAndGlyphs">homebranch</text>
<text class="r" x="810.7" y="2014.5" textLength="114.7" lengthAdjust="spacingAndGlyphs">itemcallnumber</text>
<path fill="#bdbdbd" d="M794.8 2035.4a3.3 3.3 0 1 1 6.6 0a3.3 3.3 0 1 1-6.6 0zm2.25-1a.95.95 0 1 0 1.9 0a.95.95 0 1 0-1.9 0zm-.3 3.4h2.7v3.2h-.7v.8h.7v1.3h-.7v.8h.7v1.3h-.7v.8h.7v1.2l-1.1 1.1l-1.6-1.1z"/>
<text class="r" x="810.7" y="2043.8" textLength="104.5" lengthAdjust="spacingAndGlyphs">holdingbranch</text>
<text class="r" x="810.7" y="2073.2" textLength="78.5" lengthAdjust="spacingAndGlyphs">timestamp</text>
<text class="r" x="810.7" y="2102.5" textLength="57.7" lengthAdjust="spacingAndGlyphs">location</text>
<path fill="#bdbdbd" d="M794.8 2123.4a3.3 3.3 0 1 1 6.6 0a3.3 3.3 0 1 1-6.6 0zm2.25-1a.95.95 0 1 0 1.9 0a.95.95 0 1 0-1.9 0zm-.3 3.4h2.7v3.2h-.7v.8h.7v1.3h-.7v.8h.7v1.3h-.7v.8h.7v1.2l-1.1 1.1l-1.6-1.1z"/>
<text class="r" x="810.7" y="2131.8" textLength="72.8" lengthAdjust="spacingAndGlyphs">cn_source</text>
<text class="r" x="810.7" y="2161.2" textLength="43.1" lengthAdjust="spacingAndGlyphs">ccode</text>
<text class="r" x="810.7" y="2190.5" textLength="36.5" lengthAdjust="spacingAndGlyphs">itype</text>
<text class="r" x="810.7" y="2219.8" textLength="95.4" lengthAdjust="spacingAndGlyphs">stocknumber</text>
<text class="r" x="788.6" y="2247" textLength="13.9" lengthAdjust="spacingAndGlyphs">...</text>
<text class="r" x="788.6" y="2270.2" textLength="26.1" lengthAdjust="spacingAndGlyphs">&lt; 4</text>
<text class="r" x="943.8" y="2270.2" textLength="47.9" lengthAdjust="spacingAndGlyphs">0 rows</text>
<text class="r" x="1040.5" y="2270.2" textLength="35.3" lengthAdjust="spacingAndGlyphs">24 &gt;</text>
</g>
<g>
<rect x="1159" y="1824" width="189.5" height="194.6" fill="#fff"/>
<rect x="1159" y="1824" width="189.5" height="29.3" fill="#f5f5f5"/>
<path class="s" d="M1159 1853.3H1348.5M1159 1882.7H1348.5M1159 1912H1348.5M1159 1941.3H1348.5M1159 1970.7H1348.5M1159 1994.6H1348.5M1232 1994.6V2018.6M1309.5 1994.6V2018.6"/>
<rect class="o" x="1159" y="1824" width="189.5" height="194.6"/>
<text class="b" x="1161.3" y="1841.6" textLength="130.5" lengthAdjust="spacingAndGlyphs">hold_fill_targets</text>
<text class="r" x="1293" y="1842.4" textLength="48.2" lengthAdjust="spacingAndGlyphs">[table]</text>
<path fill="#bdbdbd" d="M1169.3 1863.4a3.3 3.3 0 1 1 6.6 0a3.3 3.3 0 1 1-6.6 0zm2.25-1a.95.95 0 1 0 1.9 0a.95.95 0 1 0-1.9 0zm-.3 3.4h2.7v3.2h-.7v.8h.7v1.3h-.7v.8h.7v1.3h-.7v.8h.7v1.2l-1.1 1.1l-1.6-1.1z"/>
<text class="r" x="1189.7" y="1871.8" textLength="121.8" lengthAdjust="spacingAndGlyphs">borrowernumber</text>
<path fill="#bdbdbd" d="M1169.3 1892.8a3.3 3.3 0 1 1 6.6 0a3.3 3.3 0 1 1-6.6 0zm2.25-1a.95.95 0 1 0 1.9 0a.95.95 0 1 0-1.9 0zm-.3 3.4h2.7v3.2h-.7v.8h.7v1.3h-.7v.8h.7v1.3h-.7v.8h.7v1.2l-1.1 1.1l-1.6-1.1z"/>
<text class="r" x="1189.7" y="1901.2" textLength="96.3" lengthAdjust="spacingAndGlyphs">biblionumber</text>
<path fill="#d6dd00" d="M1169.3 1922.1a3.3 3.3 0 1 1 6.6 0a3.3 3.3 0 1 1-6.6 0zm2.25-1a.95.95 0 1 0 1.9 0a.95.95 0 1 0-1.9 0zm-.3 3.4h2.7v3.2h-.7v.8h.7v1.3h-.7v.8h.7v1.3h-.7v.8h.7v1.2l-1.1 1.1l-1.6-1.1z"/>
<text class="r" x="1189.7" y="1930.5" textLength="89.7" lengthAdjust="spacingAndGlyphs">itemnumber</text>
<path fill="#bdbdbd" d="M1169.3 1951.4a3.3 3.3 0 1 1 6.6 0a3.3 3.3 0 1 1-6.6 0zm2.25-1a.95.95 0 1 0 1.9 0a.95.95 0 1 0-1.9 0zm-.3 3.4h2.7v3.2h-.7v.8h.7v1.3h-.7v.8h.7v1.3h-.7v.8h.7v1.2l-1.1 1.1l-1.6-1.1z"/>
<text class="r" x="1189.7" y="1959.8" textLength="141.3" lengthAdjust="spacingAndGlyphs">source_branchcode</text>
<text class="r" x="1163.6" y="1987" textLength="13.9" lengthAdjust="spacingAndGlyphs">...</text>
<text class="r" x="1163.6" y="2010.2" textLength="26.1" lengthAdjust="spacingAndGlyphs">&lt; 4</text>
<text class="r" x="1257.3" y="2010.2" textLength="47.9" lengthAdjust="spacingAndGlyphs">0 rows</text>
</g>
<g>
<rect x="470" y="1937.5" width="193.5" height="341.2" fill="#fff"/>
<rect x="470" y="1937.5" width="193.5" height="29.3" fill="#f5f5f5"/>
<path class="s" d="M470 1966.8H663.5M470 1996.2H663.5M470 2025.5H663.5M470 2054.8H663.5M470 2084.2H663.5M470 2113.5H663.5M470 2142.8H663.5M470 2172.2H663.5M470 2201.5H663.5M470 2230.8H663.5M470 2254.8H663.5M538 2254.8V2278.7M611.5 2254.8V2278.7"/>
<rect class="o" x="470" y="1937.5" width="193.5" height="341.2"/>
<text class="b" x="473.3" y="1955.1" textLength="91.1" lengthAdjust="spacingAndGlyphs">biblioitems</text>
<text class="r" x="608" y="1955.9" textLength="48.2" lengthAdjust="spacingAndGlyphs">[table]</text>
<path fill="#d6dd00" d="M480.8 1976.9a3.3 3.3 0 1 1 6.6 0a3.3 3.3 0 1 1-6.6 0zm2.25-1a.95.95 0 1 0 1.9 0a.95.95 0 1 0-1.9 0zm-.3 3.4h2.7v3.2h-.7v.8h.7v1.3h-.7v.8h.7v1.3h-.7v.8h.7v1.2l-1.1 1.1l-1.6-1.1z"/>
<text class="r" x="497.2" y="1985.3" textLength="129.2" lengthAdjust="spacingAndGlyphs">biblioitemnumber</text>
<path fill="#bdbdbd" d="M480.8 2006.3a3.3 3.3 0 1 1 6.6 0a3.3 3.3 0 1 1-6.6 0zm2.25-1a.95.95 0 1 0 1.9 0a.95.95 0 1 0-1.9 0zm-.3 3.4h2.7v3.2h-.7v.8h.7v1.3h-.7v.8h.7v1.3h-.7v.8h.7v1.2l-1.1 1.1l-1.6-1.1z"/>
<text class="r" x="497.2" y="2014.7" textLength="96.3" lengthAdjust="spacingAndGlyphs">biblionumber</text>
<path fill="#bdbdbd" d="M480.8 2035.6a3.3 3.3 0 1 1 6.6 0a3.3 3.3 0 1 1-6.6 0zm2.25-1a.95.95 0 1 0 1.9 0a.95.95 0 1 0-1.9 0zm-.3 3.4h2.7v3.2h-.7v.8h.7v1.3h-.7v.8h.7v1.3h-.7v.8h.7v1.2l-1.1 1.1l-1.6-1.1z"/>
<text class="r" x="497.2" y="2044" textLength="65.4" lengthAdjust="spacingAndGlyphs">itemtype</text>
<text class="r" x="497.2" y="2073.3" textLength="30.1" lengthAdjust="spacingAndGlyphs">isbn</text>
<text class="r" x="497.2" y="2102.7" textLength="28.4" lengthAdjust="spacingAndGlyphs">issn</text>
<text class="r" x="497.2" y="2132" textLength="27.1" lengthAdjust="spacingAndGlyphs">ean</text>
<text class="r" x="497.2" y="2161.3" textLength="102.3" lengthAdjust="spacingAndGlyphs">publishercode</text>
<text class="r" x="497.2" y="2190.7" textLength="78.5" lengthAdjust="spacingAndGlyphs">timestamp</text>
<path fill="#bdbdbd" d="M480.8 2211.6a3.3 3.3 0 1 1 6.6 0a3.3 3.3 0 1 1-6.6 0zm2.25-1a.95.95 0 1 0 1.9 0a.95.95 0 1 0-1.9 0zm-.3 3.4h2.7v3.2h-.7v.8h.7v1.3h-.7v.8h.7v1.3h-.7v.8h.7v1.2l-1.1 1.1l-1.6-1.1z"/>
<text class="r" x="497.2" y="2220" textLength="72.8" lengthAdjust="spacingAndGlyphs">cn_source</text>
<text class="r" x="474.6" y="2247.1" textLength="13.9" lengthAdjust="spacingAndGlyphs">...</text>
<text class="r" x="474.6" y="2270.4" textLength="26.1" lengthAdjust="spacingAndGlyphs">&lt; 1</text>
<text class="r" x="559.3" y="2270.4" textLength="47.9" lengthAdjust="spacingAndGlyphs">0 rows</text>
<text class="r" x="632.2" y="2270.4" textLength="26.1" lengthAdjust="spacingAndGlyphs">1 &gt;</text>
</g>
<g>
<rect x="1171" y="2047.5" width="165.5" height="223.9" fill="#fff"/>
<rect x="1171" y="2047.5" width="165.5" height="29.3" fill="#f5f5f5"/>
<path class="s" d="M1171 2076.8H1336.5M1171 2106.2H1336.5M1171 2135.5H1336.5M1171 2164.8H1336.5M1171 2194.2H1336.5M1171 2223.5H1336.5M1171 2247.4H1336.5M1232 2247.4V2271.4M1303 2247.4V2271.4"/>
<rect class="o" x="1171" y="2047.5" width="165.5" height="223.9"/>
<text class="b" x="1174.3" y="2065.1" textLength="88.6" lengthAdjust="spacingAndGlyphs">linktracker</text>
<text class="r" x="1281" y="2065.9" textLength="48.2" lengthAdjust="spacingAndGlyphs">[table]</text>
<path fill="#d6dd00" d="M1181.3 2086.9a3.3 3.3 0 1 1 6.6 0a3.3 3.3 0 1 1-6.6 0zm2.25-1a.95.95 0 1 0 1.9 0a.95.95 0 1 0-1.9 0zm-.3 3.4h2.7v3.2h-.7v.8h.7v1.3h-.7v.8h.7v1.3h-.7v.8h.7v1.2l-1.1 1.1l-1.6-1.1z"/>
<text class="r" x="1197.7" y="2095.3" textLength="13.3" lengthAdjust="spacingAndGlyphs">id</text>
<path fill="#bdbdbd" d="M1181.3 2116.3a3.3 3.3 0 1 1 6.6 0a3.3 3.3 0 1 1-6.6 0zm2.25-1a.95.95 0 1 0 1.9 0a.95.95 0 1 0-1.9 0zm-.3 3.4h2.7v3.2h-.7v.8h.7v1.3h-.7v.8h.7v1.3h-.7v.8h.7v1.2l-1.1 1.1l-1.6-1.1z"/>
<text class="r" x="1197.7" y="2124.7" textLength="96.3" lengthAdjust="spacingAndGlyphs">biblionumber</text>
<path fill="#bdbdbd" d="M1181.3 2145.6a3.3 3.3 0 1 1 6.6 0a3.3 3.3 0 1 1-6.6 0zm2.25-1a.95.95 0 1 0 1.9 0a.95.95 0 1 0-1.9 0zm-.3 3.4h2.7v3.2h-.7v.8h.7v1.3h-.7v.8h.7v1.3h-.7v.8h.7v1.2l-1.1 1.1l-1.6-1.1z"/>
<text class="r" x="1197.7" y="2154" textLength="89.7" lengthAdjust="spacingAndGlyphs">itemnumber</text>
<path fill="#bdbdbd" d="M1181.3 2174.9a3.3 3.3 0 1 1 6.6 0a3.3 3.3 0 1 1-6.6 0zm2.25-1a.95.95 0 1 0 1.9 0a.95.95 0 1 0-1.9 0zm-.3 3.4h2.7v3.2h-.7v.8h.7v1.3h-.7v.8h.7v1.3h-.7v.8h.7v1.2l-1.1 1.1l-1.6-1.1z"/>
<text class="r" x="1197.7" y="2183.3" textLength="121.8" lengthAdjust="spacingAndGlyphs">borrowernumber</text>
<text class="r" x="1197.7" y="2212.7" textLength="83" lengthAdjust="spacingAndGlyphs">timeclicked</text>
<text class="r" x="1175.6" y="2239.8" textLength="13.9" lengthAdjust="spacingAndGlyphs">...</text>
<text class="r" x="1175.6" y="2263" textLength="26.1" lengthAdjust="spacingAndGlyphs">&lt; 3</text>
<text class="r" x="1250.8" y="2263" textLength="47.9" lengthAdjust="spacingAndGlyphs">0 rows</text>
</g>
<g>
<rect x="1147" y="2298.5" width="213" height="282.6" fill="#fff"/>
<rect x="1147" y="2298.5" width="213" height="29.3" fill="#f5f5f5"/>
<path class="s" d="M1147 2327.8H1360M1147 2357.2H1360M1147 2386.5H1360M1147 2415.8H1360M1147 2445.2H1360M1147 2474.5H1360M1147 2503.8H1360M1147 2533.2H1360M1147 2557.1H1360M1232 2557.1V2581.1M1315 2557.1V2581.1"/>
<rect class="o" x="1147" y="2298.5" width="213" height="282.6"/>
<text class="b" x="1147.5" y="2316.1" textLength="103.1" lengthAdjust="spacingAndGlyphs">old_reserves</text>
<text class="r" x="1304.5" y="2316.9" textLength="48.2" lengthAdjust="spacingAndGlyphs">[table]</text>
<path fill="#d6dd00" d="M1157.3 2337.9a3.3 3.3 0 1 1 6.6 0a3.3 3.3 0 1 1-6.6 0zm2.25-1a.95.95 0 1 0 1.9 0a.95.95 0 1 0-1.9 0zm-.3 3.4h2.7v3.2h-.7v.8h.7v1.3h-.7v.8h.7v1.3h-.7v.8h.7v1.2l-1.1 1.1l-1.6-1.1z"/>
<text class="r" x="1173.7" y="2346.3" textLength="75.2" lengthAdjust="spacingAndGlyphs">reserve_id</text>
<path fill="#bdbdbd" d="M1157.3 2367.3a3.3 3.3 0 1 1 6.6 0a3.3 3.3 0 1 1-6.6 0zm2.25-1a.95.95 0 1 0 1.9 0a.95.95 0 1 0-1.9 0zm-.3 3.4h2.7v3.2h-.7v.8h.7v1.3h-.7v.8h.7v1.3h-.7v.8h.7v1.2l-1.1 1.1l-1.6-1.1z"/>
<text class="r" x="1173.7" y="2375.7" textLength="121.8" lengthAdjust="spacingAndGlyphs">borrowernumber</text>
<path fill="#bdbdbd" d="M1157.3 2396.6a3.3 3.3 0 1 1 6.6 0a3.3 3.3 0 1 1-6.6 0zm2.25-1a.95.95 0 1 0 1.9 0a.95.95 0 1 0-1.9 0zm-.3 3.4h2.7v3.2h-.7v.8h.7v1.3h-.7v.8h.7v1.3h-.7v.8h.7v1.2l-1.1 1.1l-1.6-1.1z"/>
<text class="r" x="1173.7" y="2405" textLength="96.3" lengthAdjust="spacingAndGlyphs">biblionumber</text>
<path fill="#bdbdbd" d="M1157.3 2425.9a3.3 3.3 0 1 1 6.6 0a3.3 3.3 0 1 1-6.6 0zm2.25-1a.95.95 0 1 0 1.9 0a.95.95 0 1 0-1.9 0zm-.3 3.4h2.7v3.2h-.7v.8h.7v1.3h-.7v.8h.7v1.3h-.7v.8h.7v1.2l-1.1 1.1l-1.6-1.1z"/>
<text class="r" x="1173.7" y="2434.3" textLength="103" lengthAdjust="spacingAndGlyphs">item_group_id</text>
<path fill="#bdbdbd" d="M1157.3 2455.3a3.3 3.3 0 1 1 6.6 0a3.3 3.3 0 1 1-6.6 0zm2.25-1a.95.95 0 1 0 1.9 0a.95.95 0 1 0-1.9 0zm-.3 3.4h2.7v3.2h-.7v.8h.7v1.3h-.7v.8h.7v1.3h-.7v.8h.7v1.2l-1.1 1.1l-1.6-1.1z"/>
<text class="r" x="1173.7" y="2463.7" textLength="85.7" lengthAdjust="spacingAndGlyphs">branchcode</text>
<path fill="#bdbdbd" d="M1157.3 2484.6a3.3 3.3 0 1 1 6.6 0a3.3 3.3 0 1 1-6.6 0zm2.25-1a.95.95 0 1 0 1.9 0a.95.95 0 1 0-1.9 0zm-.3 3.4h2.7v3.2h-.7v.8h.7v1.3h-.7v.8h.7v1.3h-.7v.8h.7v1.2l-1.1 1.1l-1.6-1.1z"/>
<text class="r" x="1173.7" y="2493" textLength="89.7" lengthAdjust="spacingAndGlyphs">itemnumber</text>
<path fill="#bdbdbd" d="M1157.3 2513.9a3.3 3.3 0 1 1 6.6 0a3.3 3.3 0 1 1-6.6 0zm2.25-1a.95.95 0 1 0 1.9 0a.95.95 0 1 0-1.9 0zm-.3 3.4h2.7v3.2h-.7v.8h.7v1.3h-.7v.8h.7v1.3h-.7v.8h.7v1.2l-1.1 1.1l-1.6-1.1z"/>
<text class="r" x="1173.7" y="2522.3" textLength="65.4" lengthAdjust="spacingAndGlyphs">itemtype</text>
<text class="r" x="1151.6" y="2549.5" textLength="13.9" lengthAdjust="spacingAndGlyphs">...</text>
<text class="r" x="1151.6" y="2572.7" textLength="26.1" lengthAdjust="spacingAndGlyphs">&lt; 6</text>
<text class="r" x="1262.8" y="2572.7" textLength="47.9" lengthAdjust="spacingAndGlyphs">0 rows</text>
</g>
<g>
<rect x="483.5" y="2342.5" width="165" height="135.9" fill="#fff"/>
<rect x="483.5" y="2342.5" width="165" height="29.3" fill="#f5f5f5"/>
<path class="s" d="M483.5 2371.8H648.5M483.5 2401.2H648.5M483.5 2430.5H648.5M483.5 2454.4H648.5M545 2454.4V2478.4M615.5 2454.4V2478.4"/>
<rect class="o" x="483.5" y="2342.5" width="165" height="135.9"/>
<text class="b" x="486.8" y="2360.1" textLength="58.2" lengthAdjust="spacingAndGlyphs">ratings</text>
<text class="r" x="593" y="2360.9" textLength="48.2" lengthAdjust="spacingAndGlyphs">[table]</text>
<path fill="#d6dd00" d="M494.3 2381.9a3.3 3.3 0 1 1 6.6 0a3.3 3.3 0 1 1-6.6 0zm2.25-1a.95.95 0 1 0 1.9 0a.95.95 0 1 0-1.9 0zm-.3 3.4h2.7v3.2h-.7v.8h.7v1.3h-.7v.8h.7v1.3h-.7v.8h.7v1.2l-1.1 1.1l-1.6-1.1z"/>
<text class="r" x="510.2" y="2390.3" textLength="121.8" lengthAdjust="spacingAndGlyphs">borrowernumber</text>
<path fill="#d6dd00" d="M494.3 2411.3a3.3 3.3 0 1 1 6.6 0a3.3 3.3 0 1 1-6.6 0zm2.25-1a.95.95 0 1 0 1.9 0a.95.95 0 1 0-1.9 0zm-.3 3.4h2.7v3.2h-.7v.8h.7v1.3h-.7v.8h.7v1.3h-.7v.8h.7v1.2l-1.1 1.1l-1.6-1.1z"/>
<text class="r" x="510.2" y="2419.7" textLength="96.3" lengthAdjust="spacingAndGlyphs">biblionumber</text>
<text class="r" x="488.1" y="2446.8" textLength="13.9" lengthAdjust="spacingAndGlyphs">...</text>
<text class="r" x="488.1" y="2470" textLength="26.1" lengthAdjust="spacingAndGlyphs">&lt; 2</text>
<text class="r" x="563.3" y="2470" textLength="47.9" lengthAdjust="spacingAndGlyphs">0 rows</text>
</g>
<g>
<rect x="852.5" y="2542.5" width="161.5" height="135.9" fill="#fff"/>
<rect x="852.5" y="2542.5" width="161.5" height="29.3" fill="#f5f5f5"/>
<path class="s" d="M852.5 2571.8H1014M852.5 2601.2H1014M852.5 2630.5H1014M852.5 2654.4H1014M904 2654.4V2678.4M969.5 2654.4V2678.4"/>
<rect class="o" x="852.5" y="2542.5" width="161.5" height="135.9"/>
<text class="b" x="854.8" y="2560.1" textLength="101" lengthAdjust="spacingAndGlyphs">item_groups</text>
<text class="r" x="958.5" y="2560.9" textLength="48.2" lengthAdjust="spacingAndGlyphs">[table]</text>
<path fill="#d6dd00" d="M862.8 2581.9a3.3 3.3 0 1 1 6.6 0a3.3 3.3 0 1 1-6.6 0zm2.25-1a.95.95 0 1 0 1.9 0a.95.95 0 1 0-1.9 0zm-.3 3.4h2.7v3.2h-.7v.8h.7v1.3h-.7v.8h.7v1.3h-.7v.8h.7v1.2l-1.1 1.1l-1.6-1.1z"/>
<text class="r" x="889.7" y="2590.3" textLength="103" lengthAdjust="spacingAndGlyphs">item_group_id</text>
<path fill="#bdbdbd" d="M862.8 2611.3a3.3 3.3 0 1 1 6.6 0a3.3 3.3 0 1 1-6.6 0zm2.25-1a.95.95 0 1 0 1.9 0a.95.95 0 1 0-1.9 0zm-.3 3.4h2.7v3.2h-.7v.8h.7v1.3h-.7v.8h.7v1.3h-.7v.8h.7v1.2l-1.1 1.1l-1.6-1.1z"/>
<text class="r" x="889.7" y="2619.7" textLength="60.1" lengthAdjust="spacingAndGlyphs">biblio_id</text>
<text class="r" x="857.1" y="2646.8" textLength="13.9" lengthAdjust="spacingAndGlyphs">...</text>
<text class="r" x="857.1" y="2670" textLength="26.1" lengthAdjust="spacingAndGlyphs">&lt; 1</text>
<text class="r" x="917.3" y="2670" textLength="47.9" lengthAdjust="spacingAndGlyphs">0 rows</text>
<text class="r" x="982.7" y="2670" textLength="26.1" lengthAdjust="spacingAndGlyphs">3 &gt;</text>
</g>
<g>
<rect x="483.5" y="2579" width="165" height="165.2" fill="#fff"/>
<rect x="483.5" y="2579" width="165" height="29.3" fill="#f5f5f5"/>
<path class="s" d="M483.5 2608.3H648.5M483.5 2637.7H648.5M483.5 2667H648.5M483.5 2696.3H648.5M483.5 2720.3H648.5M545 2720.3V2744.2M615.5 2720.3V2744.2"/>
<rect class="o" x="483.5" y="2579" width="165" height="165.2"/>
<text class="b" x="485.3" y="2596.6" textLength="63.3" lengthAdjust="spacingAndGlyphs">reviews</text>
<text class="r" x="593" y="2597.4" textLength="48.2" lengthAdjust="spacingAndGlyphs">[table]</text>
<path fill="#d6dd00" d="M494.3 2618.4a3.3 3.3 0 1 1 6.6 0a3.3 3.3 0 1 1-6.6 0zm2.25-1a.95.95 0 1 0 1.9 0a.95.95 0 1 0-1.9 0zm-.3 3.4h2.7v3.2h-.7v.8h.7v1.3h-.7v.8h.7v1.3h-.7v.8h.7v1.2l-1.1 1.1l-1.6-1.1z"/>
<text class="r" x="510.2" y="2626.8" textLength="61.4" lengthAdjust="spacingAndGlyphs">reviewid</text>
<path fill="#bdbdbd" d="M494.3 2647.8a3.3 3.3 0 1 1 6.6 0a3.3 3.3 0 1 1-6.6 0zm2.25-1a.95.95 0 1 0 1.9 0a.95.95 0 1 0-1.9 0zm-.3 3.4h2.7v3.2h-.7v.8h.7v1.3h-.7v.8h.7v1.3h-.7v.8h.7v1.2l-1.1 1.1l-1.6-1.1z"/>
<text class="r" x="510.2" y="2656.2" textLength="121.8" lengthAdjust="spacingAndGlyphs">borrowernumber</text>
<path fill="#bdbdbd" d="M494.3 2677.1a3.3 3.3 0 1 1 6.6 0a3.3 3.3 0 1 1-6.6 0zm2.25-1a.95.95 0 1 0 1.9 0a.95.95 0 1 0-1.9 0zm-.3 3.4h2.7v3.2h-.7v.8h.7v1.3h-.7v.8h.7v1.3h-.7v.8h.7v1.2l-1.1 1.1l-1.6-1.1z"/>
<text class="r" x="510.2" y="2685.5" textLength="96.3" lengthAdjust="spacingAndGlyphs">biblionumber</text>
<text class="r" x="488.1" y="2712.6" textLength="13.9" lengthAdjust="spacingAndGlyphs">...</text>
<text class="r" x="488.1" y="2735.9" textLength="26.1" lengthAdjust="spacingAndGlyphs">&lt; 2</text>
<text class="r" x="563.3" y="2735.9" textLength="47.9" lengthAdjust="spacingAndGlyphs">0 rows</text>
</g>
<g>
<rect x="1172" y="2610" width="163.5" height="223.9" fill="#fff"/>
<rect x="1172" y="2610" width="163.5" height="29.3" fill="#f5f5f5"/>
<path class="s" d="M1172 2639.3H1335.5M1172 2668.7H1335.5M1172 2698H1335.5M1172 2727.3H1335.5M1172 2756.7H1335.5M1172 2786H1335.5M1172 2809.9H1335.5M1232 2809.9V2833.9M1303 2809.9V2833.9"/>
<rect class="o" x="1172" y="2610" width="163.5" height="223.9"/>
<text class="b" x="1174.3" y="2627.6" textLength="54" lengthAdjust="spacingAndGlyphs">recalls</text>
<text class="r" x="1280" y="2628.4" textLength="48.2" lengthAdjust="spacingAndGlyphs">[table]</text>
<path fill="#d6dd00" d="M1182.3 2649.4a3.3 3.3 0 1 1 6.6 0a3.3 3.3 0 1 1-6.6 0zm2.25-1a.95.95 0 1 0 1.9 0a.95.95 0 1 0-1.9 0zm-.3 3.4h2.7v3.2h-.7v.8h.7v1.3h-.7v.8h.7v1.3h-.7v.8h.7v1.2l-1.1 1.1l-1.6-1.1z"/>
<text class="r" x="1199.2" y="2657.8" textLength="60.2" lengthAdjust="spacingAndGlyphs">recall_id</text>
<path fill="#bdbdbd" d="M1182.3 2678.8a3.3 3.3 0 1 1 6.6 0a3.3 3.3 0 1 1-6.6 0zm2.25-1a.95.95 0 1 0 1.9 0a.95.95 0 1 0-1.9 0zm-.3 3.4h2.7v3.2h-.7v.8h.7v1.3h-.7v.8h.7v1.3h-.7v.8h.7v1.2l-1.1 1.1l-1.6-1.1z"/>
<text class="r" x="1199.2" y="2687.2" textLength="68.2" lengthAdjust="spacingAndGlyphs">patron_id</text>
<path fill="#bdbdbd" d="M1182.3 2708.1a3.3 3.3 0 1 1 6.6 0a3.3 3.3 0 1 1-6.6 0zm2.25-1a.95.95 0 1 0 1.9 0a.95.95 0 1 0-1.9 0zm-.3 3.4h2.7v3.2h-.7v.8h.7v1.3h-.7v.8h.7v1.3h-.7v.8h.7v1.2l-1.1 1.1l-1.6-1.1z"/>
<text class="r" x="1199.2" y="2716.5" textLength="60.1" lengthAdjust="spacingAndGlyphs">biblio_id</text>
<path fill="#bdbdbd" d="M1182.3 2737.4a3.3 3.3 0 1 1 6.6 0a3.3 3.3 0 1 1-6.6 0zm2.25-1a.95.95 0 1 0 1.9 0a.95.95 0 1 0-1.9 0zm-.3 3.4h2.7v3.2h-.7v.8h.7v1.3h-.7v.8h.7v1.3h-.7v.8h.7v1.2l-1.1 1.1l-1.6-1.1z"/>
<text class="r" x="1199.2" y="2745.8" textLength="122.3" lengthAdjust="spacingAndGlyphs">pickup_library_id</text>
<path fill="#bdbdbd" d="M1182.3 2766.8a3.3 3.3 0 1 1 6.6 0a3.3 3.3 0 1 1-6.6 0zm2.25-1a.95.95 0 1 0 1.9 0a.95.95 0 1 0-1.9 0zm-.3 3.4h2.7v3.2h-.7v.8h.7v1.3h-.7v.8h.7v1.3h-.7v.8h.7v1.2l-1.1 1.1l-1.6-1.1z"/>
<text class="r" x="1199.2" y="2775.2" textLength="53.4" lengthAdjust="spacingAndGlyphs">item_id</text>
<text class="r" x="1176.6" y="2802.3" textLength="13.9" lengthAdjust="spacingAndGlyphs">...</text>
<text class="r" x="1176.6" y="2825.5" textLength="26.1" lengthAdjust="spacingAndGlyphs">&lt; 4</text>
<text class="r" x="1250.8" y="2825.5" textLength="47.9" lengthAdjust="spacingAndGlyphs">0 rows</text>
</g>
<g>
<rect x="469" y="2844.5" width="194.5" height="429.2" fill="#fff"/>
<rect x="469" y="2844.5" width="194.5" height="29.3" fill="#f5f5f5"/>
<path class="s" d="M469 2873.8H663.5M469 2903.2H663.5M469 2932.5H663.5M469 2961.8H663.5M469 2991.2H663.5M469 3020.5H663.5M469 3049.8H663.5M469 3079.2H663.5M469 3108.5H663.5M469 3137.8H663.5M469 3167.2H663.5M469 3196.5H663.5M469 3225.8H663.5M469 3249.8H663.5M545 3249.8V3273.7M623.5 3249.8V3273.7"/>
<rect class="o" x="469" y="2844.5" width="194.5" height="429.2"/>
<text class="b" x="471.3" y="2862.1" textLength="99" lengthAdjust="spacingAndGlyphs">suggestions</text>
<text class="r" x="608" y="2862.9" textLength="48.2" lengthAdjust="spacingAndGlyphs">[table]</text>
<path fill="#d6dd00" d="M479.8 2883.9a3.3 3.3 0 1 1 6.6 0a3.3 3.3 0 1 1-6.6 0zm2.25-1a.95.95 0 1 0 1.9 0a.95.95 0 1 0-1.9 0zm-.3 3.4h2.7v3.2h-.7v.8h.7v1.3h-.7v.8h.7v1.3h-.7v.8h.7v1.2l-1.1 1.1l-1.6-1.1z"/>
<text class="r" x="495.2" y="2892.3" textLength="93" lengthAdjust="spacingAndGlyphs">suggestionid</text>
<path fill="#bdbdbd" d="M479.8 2913.3a3.3 3.3 0 1 1 6.6 0a3.3 3.3 0 1 1-6.6 0zm2.25-1a.95.95 0 1 0 1.9 0a.95.95 0 1 0-1.9 0zm-.3 3.4h2.7v3.2h-.7v.8h.7v1.3h-.7v.8h.7v1.3h-.7v.8h.7v1.2l-1.1 1.1l-1.6-1.1z"/>
<text class="r" x="495.2" y="2921.7" textLength="93.5" lengthAdjust="spacingAndGlyphs">suggestedby</text>
<path fill="#bdbdbd" d="M479.8 2942.6a3.3 3.3 0 1 1 6.6 0a3.3 3.3 0 1 1-6.6 0zm2.25-1a.95.95 0 1 0 1.9 0a.95.95 0 1 0-1.9 0zm-.3 3.4h2.7v3.2h-.7v.8h.7v1.3h-.7v.8h.7v1.3h-.7v.8h.7v1.2l-1.1 1.1l-1.6-1.1z"/>
<text class="r" x="495.2" y="2951" textLength="86.5" lengthAdjust="spacingAndGlyphs">managedby</text>
<path fill="#bdbdbd" d="M479.8 2971.9a3.3 3.3 0 1 1 6.6 0a3.3 3.3 0 1 1-6.6 0zm2.25-1a.95.95 0 1 0 1.9 0a.95.95 0 1 0-1.9 0zm-.3 3.4h2.7v3.2h-.7v.8h.7v1.3h-.7v.8h.7v1.3h-.7v.8h.7v1.2l-1.1 1.1l-1.6-1.1z"/>
<text class="r" x="495.2" y="2980.3" textLength="84.8" lengthAdjust="spacingAndGlyphs">acceptedby</text>
<path fill="#bdbdbd" d="M479.8 3001.3a3.3 3.3 0 1 1 6.6 0a3.3 3.3 0 1 1-6.6 0zm2.25-1a.95.95 0 1 0 1.9 0a.95.95 0 1 0-1.9 0zm-.3 3.4h2.7v3.2h-.7v.8h.7v1.3h-.7v.8h.7v1.3h-.7v.8h.7v1.2l-1.1 1.1l-1.6-1.1z"/>
<text class="r" x="495.2" y="3009.7" textLength="77.3" lengthAdjust="spacingAndGlyphs">rejectedby</text>
<path fill="#bdbdbd" d="M479.8 3030.6a3.3 3.3 0 1 1 6.6 0a3.3 3.3 0 1 1-6.6 0zm2.25-1a.95.95 0 1 0 1.9 0a.95.95 0 1 0-1.9 0zm-.3 3.4h2.7v3.2h-.7v.8h.7v1.3h-.7v.8h.7v1.3h-.7v.8h.7v1.2l-1.1 1.1l-1.6-1.1z"/>
<text class="r" x="495.2" y="3039" textLength="134.4" lengthAdjust="spacingAndGlyphs">lastmodificationby</text>
<text class="r" x="495.2" y="3068.3" textLength="54.6" lengthAdjust="spacingAndGlyphs">STATUS</text>
<path fill="#bdbdbd" d="M479.8 3089.3a3.3 3.3 0 1 1 6.6 0a3.3 3.3 0 1 1-6.6 0zm2.25-1a.95.95 0 1 0 1.9 0a.95.95 0 1 0-1.9 0zm-.3 3.4h2.7v3.2h-.7v.8h.7v1.3h-.7v.8h.7v1.3h-.7v.8h.7v1.2l-1.1 1.1l-1.6-1.1z"/>
<text class="r" x="495.2" y="3097.7" textLength="30.1" lengthAdjust="spacingAndGlyphs">isbn</text>
<path fill="#bdbdbd" d="M479.8 3118.6a3.3 3.3 0 1 1 6.6 0a3.3 3.3 0 1 1-6.6 0zm2.25-1a.95.95 0 1 0 1.9 0a.95.95 0 1 0-1.9 0zm-.3 3.4h2.7v3.2h-.7v.8h.7v1.3h-.7v.8h.7v1.3h-.7v.8h.7v1.2l-1.1 1.1l-1.6-1.1z"/>
<text class="r" x="495.2" y="3127" textLength="96.3" lengthAdjust="spacingAndGlyphs">biblionumber</text>
<path fill="#bdbdbd" d="M479.8 3147.9a3.3 3.3 0 1 1 6.6 0a3.3 3.3 0 1 1-6.6 0zm2.25-1a.95.95 0 1 0 1.9 0a.95.95 0 1 0-1.9 0zm-.3 3.4h2.7v3.2h-.7v.8h.7v1.3h-.7v.8h.7v1.3h-.7v.8h.7v1.2l-1.1 1.1l-1.6-1.1z"/>
<text class="r" x="495.2" y="3156.3" textLength="64.9" lengthAdjust="spacingAndGlyphs">budgetid</text>
<path fill="#bdbdbd" d="M479.8 3177.3a3.3 3.3 0 1 1 6.6 0a3.3 3.3 0 1 1-6.6 0zm2.25-1a.95.95 0 1 0 1.9 0a.95.95 0 1 0-1.9 0zm-.3 3.4h2.7v3.2h-.7v.8h.7v1.3h-.7v.8h.7v1.3h-.7v.8h.7v1.2l-1.1 1.1l-1.6-1.1z"/>
<text class="r" x="495.2" y="3185.7" textLength="85.7" lengthAdjust="spacingAndGlyphs">branchcode</text>
<path fill="#bdbdbd" d="M479.8 3206.6a3.3 3.3 0 1 1 6.6 0a3.3 3.3 0 1 1-6.6 0zm2.25-1a.95.95 0 1 0 1.9 0a.95.95 0 1 0-1.9 0zm-.3 3.4h2.7v3.2h-.7v.8h.7v1.3h-.7v.8h.7v1.3h-.7v.8h.7v1.2l-1.1 1.1l-1.6-1.1z"/>
<text class="r" x="495.2" y="3215" textLength="63.4" lengthAdjust="spacingAndGlyphs">currency</text>
<text class="r" x="473.6" y="3242.1" textLength="13.9" lengthAdjust="spacingAndGlyphs">...</text>
<text class="r" x="473.6" y="3265.4" textLength="26.1" lengthAdjust="spacingAndGlyphs">&lt; 8</text>
<text class="r" x="571.3" y="3265.4" textLength="47.9" lengthAdjust="spacingAndGlyphs">0 rows</text>
</g>
<g>
<rect x="1147" y="2861.5" width="213" height="370.6" fill="#fff"/>
<rect x="1147" y="2861.5" width="213" height="29.3" fill="#f5f5f5"/>
<path class="s" d="M1147 2890.8H1360M1147 2920.2H1360M1147 2949.5H1360M1147 2978.8H1360M1147 3008.2H1360M1147 3037.5H1360M1147 3066.8H1360M1147 3096.2H1360M1147 3125.5H1360M1147 3154.8H1360M1147 3184.2H1360M1147 3208.1H1360M1224 3208.1V3232.1M1303 3208.1V3232.1"/>
<rect class="o" x="1147" y="2861.5" width="213" height="370.6"/>
<text class="b" x="1147.8" y="2879.1" textLength="70.5" lengthAdjust="spacingAndGlyphs">reserves</text>
<text class="r" x="1304.5" y="2879.9" textLength="48.2" lengthAdjust="spacingAndGlyphs">[table]</text>
<path fill="#d6dd00" d="M1157.3 2900.9a3.3 3.3 0 1 1 6.6 0a3.3 3.3 0 1 1-6.6 0zm2.25-1a.95.95 0 1 0 1.9 0a.95.95 0 1 0-1.9 0zm-.3 3.4h2.7v3.2h-.7v.8h.7v1.3h-.7v.8h.7v1.3h-.7v.8h.7v1.2l-1.1 1.1l-1.6-1.1z"/>
<text class="r" x="1173.7" y="2909.3" textLength="75.2" lengthAdjust="spacingAndGlyphs">reserve_id</text>
<path fill="#bdbdbd" d="M1157.3 2930.3a3.3 3.3 0 1 1 6.6 0a3.3 3.3 0 1 1-6.6 0zm2.25-1a.95.95 0 1 0 1.9 0a.95.95 0 1 0-1.9 0zm-.3 3.4h2.7v3.2h-.7v.8h.7v1.3h-.7v.8h.7v1.3h-.7v.8h.7v1.2l-1.1 1.1l-1.6-1.1z"/>
<text class="r" x="1173.7" y="2938.7" textLength="121.8" lengthAdjust="spacingAndGlyphs">borrowernumber</text>
<path fill="#bdbdbd" d="M1157.3 2959.6a3.3 3.3 0 1 1 6.6 0a3.3 3.3 0 1 1-6.6 0zm2.25-1a.95.95 0 1 0 1.9 0a.95.95 0 1 0-1.9 0zm-.3 3.4h2.7v3.2h-.7v.8h.7v1.3h-.7v.8h.7v1.3h-.7v.8h.7v1.2l-1.1 1.1l-1.6-1.1z"/>
<text class="r" x="1173.7" y="2968" textLength="96.3" lengthAdjust="spacingAndGlyphs">biblionumber</text>
<path fill="#bdbdbd" d="M1157.3 2988.9a3.3 3.3 0 1 1 6.6 0a3.3 3.3 0 1 1-6.6 0zm2.25-1a.95.95 0 1 0 1.9 0a.95.95 0 1 0-1.9 0zm-.3 3.4h2.7v3.2h-.7v.8h.7v1.3h-.7v.8h.7v1.3h-.7v.8h.7v1.2l-1.1 1.1l-1.6-1.1z"/>
<text class="r" x="1173.7" y="2997.3" textLength="103" lengthAdjust="spacingAndGlyphs">item_group_id</text>
<path fill="#bdbdbd" d="M1157.3 3018.3a3.3 3.3 0 1 1 6.6 0a3.3 3.3 0 1 1-6.6 0zm2.25-1a.95.95 0 1 0 1.9 0a.95.95 0 1 0-1.9 0zm-.3 3.4h2.7v3.2h-.7v.8h.7v1.3h-.7v.8h.7v1.3h-.7v.8h.7v1.2l-1.1 1.1l-1.6-1.1z"/>
<text class="r" x="1173.7" y="3026.7" textLength="85.7" lengthAdjust="spacingAndGlyphs">branchcode</text>
<path fill="#bdbdbd" d="M1157.3 3047.6a3.3 3.3 0 1 1 6.6 0a3.3 3.3 0 1 1-6.6 0zm2.25-1a.95.95 0 1 0 1.9 0a.95.95 0 1 0-1.9 0zm-.3 3.4h2.7v3.2h-.7v.8h.7v1.3h-.7v.8h.7v1.3h-.7v.8h.7v1.2l-1.1 1.1l-1.6-1.1z"/>
<text class="r" x="1173.7" y="3056" textLength="54.7" lengthAdjust="spacingAndGlyphs">desk_id</text>
<text class="r" x="1173.7" y="3085.3" textLength="52.5" lengthAdjust="spacingAndGlyphs">priority</text>
<text class="r" x="1173.7" y="3114.7" textLength="41.7" lengthAdjust="spacingAndGlyphs">found</text>
<path fill="#bdbdbd" d="M1157.3 3135.6a3.3 3.3 0 1 1 6.6 0a3.3 3.3 0 1 1-6.6 0zm2.25-1a.95.95 0 1 0 1.9 0a.95.95 0 1 0-1.9 0zm-.3 3.4h2.7v3.2h-.7v.8h.7v1.3h-.7v.8h.7v1.3h-.7v.8h.7v1.2l-1.1 1.1l-1.6-1.1z"/>
<text class="r" x="1173.7" y="3144" textLength="89.7" lengthAdjust="spacingAndGlyphs">itemnumber</text>
<path fill="#bdbdbd" d="M1157.3 3164.9a3.3 3.3 0 1 1 6.6 0a3.3 3.3 0 1 1-6.6 0zm2.25-1a.95.95 0 1 0 1.9 0a.95.95 0 1 0-1.9 0zm-.3 3.4h2.7v3.2h-.7v.8h.7v1.3h-.7v.8h.7v1.3h-.7v.8h.7v1.2l-1.1 1.1l-1.6-1.1z"/>
<text class="r" x="1173.7" y="3173.3" textLength="65.4" lengthAdjust="spacingAndGlyphs">itemtype</text>
<text class="r" x="1151.6" y="3200.5" textLength="13.9" lengthAdjust="spacingAndGlyphs">...</text>
<text class="r" x="1151.6" y="3223.7" textLength="26.1" lengthAdjust="spacingAndGlyphs">&lt; 7</text>
<text class="r" x="1250.8" y="3223.7" textLength="47.9" lengthAdjust="spacingAndGlyphs">0 rows</text>
<text class="r" x="1328.7" y="3223.7" textLength="26.1" lengthAdjust="spacingAndGlyphs">1 &gt;</text>
</g>
<g>
<rect x="483.5" y="3301.5" width="165" height="194.6" fill="#fff"/>
<rect x="483.5" y="3301.5" width="165" height="29.3" fill="#f5f5f5"/>
<path class="s" d="M483.5 3330.8H648.5M483.5 3360.2H648.5M483.5 3389.5H648.5M483.5 3418.8H648.5M483.5 3448.2H648.5M483.5 3472.1H648.5M545 3472.1V3496.1M615.5 3472.1V3496.1"/>
<rect class="o" x="483.5" y="3301.5" width="165" height="194.6"/>
<text class="b" x="485.3" y="3319.1" textLength="62.7" lengthAdjust="spacingAndGlyphs">tags_all</text>
<text class="r" x="593" y="3319.9" textLength="48.2" lengthAdjust="spacingAndGlyphs">[table]</text>
<path fill="#d6dd00" d="M494.3 3340.9a3.3 3.3 0 1 1 6.6 0a3.3 3.3 0 1 1-6.6 0zm2.25-1a.95.95 0 1 0 1.9 0a.95.95 0 1 0-1.9 0zm-.3 3.4h2.7v3.2h-.7v.8h.7v1.3h-.7v.8h.7v1.3h-.7v.8h.7v1.2l-1.1 1.1l-1.6-1.1z"/>
<text class="r" x="510.2" y="3349.3" textLength="44.4" lengthAdjust="spacingAndGlyphs">tag_id</text>
<path fill="#bdbdbd" d="M494.3 3370.3a3.3 3.3 0 1 1 6.6 0a3.3 3.3 0 1 1-6.6 0zm2.25-1a.95.95 0 1 0 1.9 0a.95.95 0 1 0-1.9 0zm-.3 3.4h2.7v3.2h-.7v.8h.7v1.3h-.7v.8h.7v1.3h-.7v.8h.7v1.2l-1.1 1.1l-1.6-1.1z"/>
<text class="r" x="510.2" y="3378.7" textLength="121.8" lengthAdjust="spacingAndGlyphs">borrowernumber</text>
<path fill="#bdbdbd" d="M494.3 3399.6a3.3 3.3 0 1 1 6.6 0a3.3 3.3 0 1 1-6.6 0zm2.25-1a.95.95 0 1 0 1.9 0a.95.95 0 1 0-1.9 0zm-.3 3.4h2.7v3.2h-.7v.8h.7v1.3h-.7v.8h.7v1.3h-.7v.8h.7v1.2l-1.1 1.1l-1.6-1.1z"/>
<text class="r" x="510.2" y="3408" textLength="96.3" lengthAdjust="spacingAndGlyphs">biblionumber</text>
<path fill="#bdbdbd" d="M494.3 3428.9a3.3 3.3 0 1 1 6.6 0a3.3 3.3 0 1 1-6.6 0zm2.25-1a.95.95 0 1 0 1.9 0a.95.95 0 1 0-1.9 0zm-.3 3.4h2.7v3.2h-.7v.8h.7v1.3h-.7v.8h.7v1.3h-.7v.8h.7v1.2l-1.1 1.1l-1.6-1.1z"/>
<text class="r" x="510.2" y="3437.3" textLength="34.6" lengthAdjust="spacingAndGlyphs">term</text>
<text class="r" x="488.1" y="3464.5" textLength="13.9" lengthAdjust="spacingAndGlyphs">...</text>
<text class="r" x="488.1" y="3487.7" textLength="26.1" lengthAdjust="spacingAndGlyphs">&lt; 2</text>
<text class="r" x="563.3" y="3487.7" textLength="47.9" lengthAdjust="spacingAndGlyphs">0 rows</text>
</g>
<g>
<rect x="493" y="3524.5" width="148" height="135.9" fill="#fff"/>
<rect x="493" y="3524.5" width="148" height="29.3" fill="#f5f5f5"/>
<path class="s" d="M493 3553.8H641M493 3583.2H641M493 3612.5H641M493 3636.4H641M546 3636.4V3660.4M613 3636.4V3660.4"/>
<rect class="o" x="493" y="3524.5" width="148" height="135.9"/>
<text class="b" x="495.3" y="3542.1" textLength="87.9" lengthAdjust="spacingAndGlyphs">tags_index</text>
<text class="r" x="585.5" y="3542.9" textLength="48.2" lengthAdjust="spacingAndGlyphs">[table]</text>
<path fill="#d6dd00" d="M503.3 3563.9a3.3 3.3 0 1 1 6.6 0a3.3 3.3 0 1 1-6.6 0zm2.25-1a.95.95 0 1 0 1.9 0a.95.95 0 1 0-1.9 0zm-.3 3.4h2.7v3.2h-.7v.8h.7v1.3h-.7v.8h.7v1.3h-.7v.8h.7v1.2l-1.1 1.1l-1.6-1.1z"/>
<text class="r" x="526.2" y="3572.3" textLength="34.6" lengthAdjust="spacingAndGlyphs">term</text>
<path fill="#d6dd00" d="M503.3 3593.3a3.3 3.3 0 1 1 6.6 0a3.3 3.3 0 1 1-6.6 0zm2.25-1a.95.95 0 1 0 1.9 0a.95.95 0 1 0-1.9 0zm-.3 3.4h2.7v3.2h-.7v.8h.7v1.3h-.7v.8h.7v1.3h-.7v.8h.7v1.2l-1.1 1.1l-1.6-1.1z"/>
<text class="r" x="526.2" y="3601.7" textLength="96.3" lengthAdjust="spacingAndGlyphs">biblionumber</text>
<text class="r" x="497.6" y="3628.8" textLength="13.9" lengthAdjust="spacingAndGlyphs">...</text>
<text class="r" x="497.6" y="3652" textLength="26.1" lengthAdjust="spacingAndGlyphs">&lt; 2</text>
<text class="r" x="560.8" y="3652" textLength="47.9" lengthAdjust="spacingAndGlyphs">0 rows</text>
</g>
<g>
<rect x="1156" y="3580" width="195" height="165.2" fill="#fff"/>
<rect x="1156" y="3580" width="195" height="29.3" fill="#f5f5f5"/>
<path class="s" d="M1156 3609.3H1351M1156 3638.7H1351M1156 3668H1351M1156 3697.3H1351M1156 3721.3H1351M1232 3721.3V3745.2M1311 3721.3V3745.2"/>
<rect class="o" x="1156" y="3580" width="195" height="165.2"/>
<text class="b" x="1159.3" y="3597.6" textLength="134.7" lengthAdjust="spacingAndGlyphs">tmp_holdsqueue</text>
<text class="r" x="1295.5" y="3598.4" textLength="48.2" lengthAdjust="spacingAndGlyphs">[table]</text>
<path fill="#bdbdbd" d="M1166.8 3619.4a3.3 3.3 0 1 1 6.6 0a3.3 3.3 0 1 1-6.6 0zm2.25-1a.95.95 0 1 0 1.9 0a.95.95 0 1 0-1.9 0zm-.3 3.4h2.7v3.2h-.7v.8h.7v1.3h-.7v.8h.7v1.3h-.7v.8h.7v1.2l-1.1 1.1l-1.6-1.1z"/>
<text class="r" x="1192.2" y="3627.8" textLength="96.3" lengthAdjust="spacingAndGlyphs">biblionumber</text>
<path fill="#d6dd00" d="M1166.8 3648.8a3.3 3.3 0 1 1 6.6 0a3.3 3.3 0 1 1-6.6 0zm2.25-1a.95.95 0 1 0 1.9 0a.95.95 0 1 0-1.9 0zm-.3 3.4h2.7v3.2h-.7v.8h.7v1.3h-.7v.8h.7v1.3h-.7v.8h.7v1.2l-1.1 1.1l-1.6-1.1z"/>
<text class="r" x="1192.2" y="3657.2" textLength="89.7" lengthAdjust="spacingAndGlyphs">itemnumber</text>
<path fill="#bdbdbd" d="M1166.8 3678.1a3.3 3.3 0 1 1 6.6 0a3.3 3.3 0 1 1-6.6 0zm2.25-1a.95.95 0 1 0 1.9 0a.95.95 0 1 0-1.9 0zm-.3 3.4h2.7v3.2h-.7v.8h.7v1.3h-.7v.8h.7v1.3h-.7v.8h.7v1.2l-1.1 1.1l-1.6-1.1z"/>
<text class="r" x="1192.2" y="3686.5" textLength="121.8" lengthAdjust="spacingAndGlyphs">borrowernumber</text>
<text class="r" x="1160.6" y="3713.6" textLength="13.9" lengthAdjust="spacingAndGlyphs">...</text>
<text class="r" x="1160.6" y="3736.9" textLength="26.1" lengthAdjust="spacingAndGlyphs">&lt; 3</text>
<text class="r" x="1258.8" y="3736.9" textLength="47.9" lengthAdjust="spacingAndGlyphs">0 rows</text>
</g>
<g>
<rect x="497" y="3688" width="140" height="223.9" fill="#fff"/>
<rect x="497" y="3688" width="140" height="29.3" fill="#f5f5f5"/>
<path class="s" d="M497 3717.3H637M497 3746.7H637M497 3776H637M497 3805.3H637M497 3834.7H637M497 3864H637M497 3887.9H637M538 3887.9V3911.9M598.5 3887.9V3911.9"/>
<rect class="o" x="497" y="3688" width="140" height="223.9"/>
<text class="b" x="498.8" y="3705.6" textLength="55.2" lengthAdjust="spacingAndGlyphs">tickets</text>
<text class="r" x="581.5" y="3706.4" textLength="48.2" lengthAdjust="spacingAndGlyphs">[table]</text>
<path fill="#d6dd00" d="M507.8 3727.4a3.3 3.3 0 1 1 6.6 0a3.3 3.3 0 1 1-6.6 0zm2.25-1a.95.95 0 1 0 1.9 0a.95.95 0 1 0-1.9 0zm-.3 3.4h2.7v3.2h-.7v.8h.7v1.3h-.7v.8h.7v1.3h-.7v.8h.7v1.2l-1.1 1.1l-1.6-1.1z"/>
<text class="r" x="523.7" y="3735.8" textLength="13.3" lengthAdjust="spacingAndGlyphs">id</text>
<path fill="#bdbdbd" d="M507.8 3756.8a3.3 3.3 0 1 1 6.6 0a3.3 3.3 0 1 1-6.6 0zm2.25-1a.95.95 0 1 0 1.9 0a.95.95 0 1 0-1.9 0zm-.3 3.4h2.7v3.2h-.7v.8h.7v1.3h-.7v.8h.7v1.3h-.7v.8h.7v1.2l-1.1 1.1l-1.6-1.1z"/>
<text class="r" x="523.7" y="3765.2" textLength="79.9" lengthAdjust="spacingAndGlyphs">reporter_id</text>
<path fill="#bdbdbd" d="M507.8 3786.1a3.3 3.3 0 1 1 6.6 0a3.3 3.3 0 1 1-6.6 0zm2.25-1a.95.95 0 1 0 1.9 0a.95.95 0 1 0-1.9 0zm-.3 3.4h2.7v3.2h-.7v.8h.7v1.3h-.7v.8h.7v1.3h-.7v.8h.7v1.2l-1.1 1.1l-1.6-1.1z"/>
<text class="r" x="523.7" y="3794.5" textLength="85" lengthAdjust="spacingAndGlyphs">assignee_id</text>
<path fill="#bdbdbd" d="M507.8 3815.4a3.3 3.3 0 1 1 6.6 0a3.3 3.3 0 1 1-6.6 0zm2.25-1a.95.95 0 1 0 1.9 0a.95.95 0 1 0-1.9 0zm-.3 3.4h2.7v3.2h-.7v.8h.7v1.3h-.7v.8h.7v1.3h-.7v.8h.7v1.2l-1.1 1.1l-1.6-1.1z"/>
<text class="r" x="523.7" y="3823.8" textLength="79.2" lengthAdjust="spacingAndGlyphs">resolver_id</text>
<path fill="#bdbdbd" d="M507.8 3844.8a3.3 3.3 0 1 1 6.6 0a3.3 3.3 0 1 1-6.6 0zm2.25-1a.95.95 0 1 0 1.9 0a.95.95 0 1 0-1.9 0zm-.3 3.4h2.7v3.2h-.7v.8h.7v1.3h-.7v.8h.7v1.3h-.7v.8h.7v1.2l-1.1 1.1l-1.6-1.1z"/>
<text class="r" x="523.7" y="3853.2" textLength="60.1" lengthAdjust="spacingAndGlyphs">biblio_id</text>
<text class="r" x="501.6" y="3880.3" textLength="13.9" lengthAdjust="spacingAndGlyphs">...</text>
<text class="r" x="501.6" y="3903.5" textLength="26.1" lengthAdjust="spacingAndGlyphs">&lt; 4</text>
<text class="r" x="546.3" y="3903.5" textLength="47.9" lengthAdjust="spacingAndGlyphs">0 rows</text>
<text class="r" x="605.7" y="3903.5" textLength="26.1" lengthAdjust="spacingAndGlyphs">1 &gt;</text>
</g>
<g>
<rect x="454" y="3976" width="225.5" height="165.2" fill="#fff"/>
<rect x="454" y="3976" width="225.5" height="29.3" fill="#f5f5f5"/>
<path class="s" d="M454 4005.3H679.5M454 4034.7H679.5M454 4064H679.5M454 4093.3H679.5M454 4117.3H679.5M546 4117.3V4141.2M631.5 4117.3V4141.2"/>
<rect class="o" x="454" y="3976" width="225.5" height="165.2"/>
<text class="b" x="455.8" y="3993.6" textLength="165.2" lengthAdjust="spacingAndGlyphs">virtualshelfcontents</text>
<text class="r" x="624" y="3994.4" textLength="48.2" lengthAdjust="spacingAndGlyphs">[table]</text>
<path fill="#bdbdbd" d="M464.8 4015.4a3.3 3.3 0 1 1 6.6 0a3.3 3.3 0 1 1-6.6 0zm2.25-1a.95.95 0 1 0 1.9 0a.95.95 0 1 0-1.9 0zm-.3 3.4h2.7v3.2h-.7v.8h.7v1.3h-.7v.8h.7v1.3h-.7v.8h.7v1.2l-1.1 1.1l-1.6-1.1z"/>
<text class="r" x="498.2" y="4023.8" textLength="91.7" lengthAdjust="spacingAndGlyphs">shelfnumber</text>
<path fill="#bdbdbd" d="M464.8 4044.8a3.3 3.3 0 1 1 6.6 0a3.3 3.3 0 1 1-6.6 0zm2.25-1a.95.95 0 1 0 1.9 0a.95.95 0 1 0-1.9 0zm-.3 3.4h2.7v3.2h-.7v.8h.7v1.3h-.7v.8h.7v1.3h-.7v.8h.7v1.2l-1.1 1.1l-1.6-1.1z"/>
<text class="r" x="498.2" y="4053.2" textLength="96.3" lengthAdjust="spacingAndGlyphs">biblionumber</text>
<path fill="#bdbdbd" d="M464.8 4074.1a3.3 3.3 0 1 1 6.6 0a3.3 3.3 0 1 1-6.6 0zm2.25-1a.95.95 0 1 0 1.9 0a.95.95 0 1 0-1.9 0zm-.3 3.4h2.7v3.2h-.7v.8h.7v1.3h-.7v.8h.7v1.3h-.7v.8h.7v1.2l-1.1 1.1l-1.6-1.1z"/>
<text class="r" x="498.2" y="4082.5" textLength="121.8" lengthAdjust="spacingAndGlyphs">borrowernumber</text>
<text class="r" x="458.6" y="4109.6" textLength="13.9" lengthAdjust="spacingAndGlyphs">...</text>
<text class="r" x="458.6" y="4132.9" textLength="26.1" lengthAdjust="spacingAndGlyphs">&lt; 3</text>
<text class="r" x="579.3" y="4132.9" textLength="47.9" lengthAdjust="spacingAndGlyphs">0 rows</text>
</g>
<path class="a" d="M790.2 84L802.9 78.1L796.6 83.9L803 83.8L796.6 83.9L803.1 89.6Z"/>
<circle class="c" cx="785.9" cy="84" r="4.3"/>
<path class="e" d="M781.7 84C774.3 84.4 766.9 84.3 759.5 85C749.5 86 739.5 87.2 729.6 89C719.5 90.9 709.5 93.2 699.6 96C689.5 98.9 679.5 102.1 669.7 106C659.5 110.1 649.5 114.9 639.7 120C629.5 125.4 619.3 131 609.7 137.4C599.3 144.3 589.4 152 579.8 160C569.4 168.7 559.2 177.6 549.8 187.3C539.1 198.4 529.4 210.3 519.8 222.3C509.4 235.3 499.5 248.7 489.9 262.3C479.5 277 469.8 292.2 459.9 307.2C450.1 322.1 440.6 337.1 431 352C424 362.9 417 373.7 410 384.6C407.1 389.1 403.3 393.1 401.3 398C398.9 403.7 397.8 409.9 397 416C395.5 426.8 395.3 437.8 394.3 448.7C393.5 457.8 392.4 466.8 391.6 475.9C390.1 493.9 388.8 512 387.5 530C386.1 548.2 384.5 566.4 383.5 584.6C382.5 602.7 381.9 620.9 381.3 639C380.8 657 380.3 675 380.2 693C379.9 738.3 380.1 783.7 380.2 829C380.3 899.3 380.4 969.7 380.7 1040C380.8 1060 381.5 1080 381.5 1100C381.3 1200 380.6 1300 380 1400C379.8 1433.3 378.8 1466.7 379 1500C379.3 1556.7 383.1 1613.3 381.6 1670C380.6 1710.1 374 1749.9 371.6 1790C370.6 1806.6 372.4 1823.4 371.6 1840C371.3 1846.4 369.9 1852.8 368.4 1859C366.8 1865.5 364.8 1871.8 362.4 1878C360.8 1882.5 358.6 1886.8 356.4 1891C354.9 1893.9 353 1896.7 351.3 1899.5C350.2 1901.3 349.1 1903.2 348 1905"/>
<path class="a" d="M832.7 510.7L846 506.1L839.1 511.3L845.5 511.8L839.1 511.3L845 517.6Z"/>
<circle class="c" cx="828.5" cy="510.4" r="4.3"/>
<path class="e" d="M824.2 510C822.8 509.7 821.3 509.7 820 509C814.8 506.3 809.5 503.7 805 500C797.7 494 791.5 486.8 785 480C776.5 471 769.6 460.3 760 452.5C751 445.2 740.3 440.2 730 435C716.8 428.4 703.5 421.9 689.6 417C665 408.4 639.8 401.5 614.7 394.5C598.2 389.9 581.6 385.3 564.7 382C551.5 379.4 538.2 377.5 524.8 377C516.5 376.7 508.1 377.6 500 379.4C489.9 381.6 480 385.1 470.4 389C461.1 392.8 452 397.4 443.3 402.5C435.7 406.9 428.6 412.3 421.5 417.4C415.2 421.9 407.9 425.5 403 431.5C399 436.3 397.3 442.7 395.7 448.7C393.9 455.8 393.5 463.1 393 470.4C392.2 481.2 391.9 492.1 391.6 503C391 521.1 390.6 539.3 390.3 557.4C390 575.5 389.7 593.6 389.7 611.7C389.5 754.5 389.5 897.2 389.7 1040C389.7 1060 390.8 1080 390.5 1100C388.9 1200 386.4 1300 384 1400C383.2 1433.3 381.2 1466.7 381 1500C380.7 1556.7 383.8 1613.3 382.5 1670C381.5 1710.1 376.2 1750 374.2 1790C373.4 1806.6 375 1823.4 374.2 1840C373.9 1846.4 372.5 1852.8 370.9 1859C369.3 1865.5 367.2 1871.8 364.8 1878C363 1882.5 360.7 1886.8 358.3 1891C356.6 1894 354.4 1896.7 352.4 1899.5C351 1901.4 349.5 1903.2 348 1905"/>
<path class="a" d="M447.8 493.2L460 486.3L454.1 492.6L460.5 492L454.1 492.6L461 497.7Z"/>
<circle class="c" cx="443.5" cy="493.6" r="4.3"/>
<path class="e" d="M439.3 494C435.2 495.2 430.8 495.7 427 497.6C421.2 500.6 415 503.6 410.7 508.5C406.1 513.9 403 520.7 401.1 527.5C398.4 537.2 397.4 547.3 397 557.4C396.5 570.9 397.5 584.5 398.4 598C399.3 611.7 401.4 625.3 402.5 639C403.6 652.5 405.1 666.1 405.2 679.7C405.3 693.3 403.8 706.8 403 720.4C402.2 734 400.8 747.6 400.3 761.2C399.5 783.8 399.3 806.4 399.2 829C399.1 865.3 399.7 901.5 399.8 937.8C399.9 971.9 400.2 1005.9 399.8 1040C399.6 1060 398.3 1080 398 1100C396.4 1200 395.3 1300 394 1400C393.6 1433.3 393.8 1466.7 393 1500C391.6 1556.7 388.1 1613.3 387.5 1670C387.1 1710 389.3 1750 389.8 1790C390 1806.7 390.4 1823.3 389.8 1840C389.6 1846.4 388.8 1852.8 387.5 1859C386.1 1865.5 384.5 1872 381.9 1878C379.8 1882.7 376.9 1887.2 373.4 1891C370.1 1894.5 366.1 1897.2 361.9 1899.5C357.5 1901.9 352.6 1903.2 348 1905"/>
<path class="a" d="M811.2 695.3L823.7 688.8L817.6 694.9L824 694.5L817.6 694.9L824.3 700.2Z"/>
<circle class="c" cx="807" cy="695.5" r="4.3"/>
<path class="e" d="M802.7 695.8C801.8 696 800.9 696.2 800 696.5C795 698 790 699.4 785 701C776.6 703.6 768.5 706.8 760 709C750.1 711.5 740.1 713.6 730 715C720.1 716.4 710 717.1 700 717.5C679.9 718.4 659.7 719 639.6 719C606.3 719 573.1 717.6 539.8 717.6C526.5 717.6 513.2 718 500 719C490.1 719.8 480.1 720.9 470.4 723C461.2 725 452.1 727.9 443.3 731.3C435.8 734.2 428.1 737.3 421.5 742C415.2 746.5 409.7 752.2 405.2 758.5C400.5 765.1 397.2 772.7 394.3 780.2C390.9 789 388.2 798.2 386.2 807.4C383.7 819 382.2 830.9 380.8 842.7C379.3 856.3 378.3 869.9 377.5 883.5C376.5 901.6 375.8 919.7 375.3 937.8C374.9 955.9 374.8 973.9 374.8 992C374.8 1008 375.1 1024 375.3 1040C375.5 1060 375.9 1080 376 1100C376.3 1200 376.3 1300 376.5 1400C376.6 1433.3 376.5 1466.7 377 1500C377.9 1556.7 382.4 1613.3 380.8 1670C379.7 1710.2 371.8 1749.9 369 1790C367.8 1806.6 369.7 1823.3 369 1840C368.7 1846.4 367.4 1852.7 365.9 1859C364.4 1865.4 362.4 1871.8 360.2 1878C358.7 1882.4 356.7 1886.7 354.7 1891C353.4 1893.9 351.7 1896.6 350.3 1899.5C349.5 1901.3 348.8 1903.2 348 1905"/>
<path class="a" d="M457.2 839.7L469.6 833.1L463.6 839.3L470 838.8L463.6 839.3L470.4 844.6Z"/>
<circle class="c" cx="453" cy="840" r="4.3"/>
<path class="e" d="M448.7 840.3C446 841.1 443.1 841.5 440.5 842.7C435.8 845 430.9 847.4 427 850.9C422.6 854.8 418.6 859.3 416 864.5C412.6 871.3 410.7 878.8 409.3 886.2C407.7 894.3 407.3 902.5 407.1 910.7C406.7 924.3 407.5 937.8 407.4 951.4C407.3 964.9 407.3 978.5 406.6 992C405.8 1008 404.3 1024 403 1040C401.9 1053.3 400.5 1066.6 399.5 1080C398.8 1090 398.1 1100 398 1110C396.9 1206.7 396.7 1303.3 396 1400C395.7 1433.3 395.9 1466.7 395 1500C393.4 1556.7 388.9 1613.3 388.4 1670C388 1710 391.4 1750 392.4 1790C392.8 1806.7 392.9 1823.3 392.4 1840C392.2 1846.4 391.6 1852.7 390.4 1859C389.2 1865.5 387.9 1872 385.2 1878C383.2 1882.8 380.2 1887.3 376.5 1891C373 1894.6 368.5 1897.3 364 1899.5C358.9 1902 353.3 1903.2 348 1905"/>
<path class="a" d="M1146.4 697.8L1158 690L1152.7 696.7L1159 695.7L1152.7 696.7L1160 701.3Z"/>
<circle class="c" cx="1142.2" cy="698.5" r="4.3"/>
<path class="e" d="M1138 699.3C1135.5 700.5 1132.3 700.9 1130.5 703C1126.3 708 1122.9 713.9 1120.5 720C1116.2 730.7 1114.4 742.2 1110.5 753C1105.6 766.6 1101.6 780.7 1094 793C1086.9 804.4 1076.5 813.5 1067 823C1049.8 840.2 1031.9 856.6 1014 873C991.9 893.3 971 915 947 933C926.3 948.5 903.9 961.9 880.6 973C856.7 984.3 830.7 990.5 806 1000C783.8 1008.5 762.7 1019.8 740 1027C718.2 1033.9 695.7 1039 673 1042C650.8 1045 628.4 1045.3 606 1045C590.5 1044.8 575.2 1041.9 559.8 1040.5C544 1039 528.2 1036.2 512.3 1036.2C498.9 1036.2 485.5 1037.9 472.4 1040.5C464.6 1042.1 457.2 1045.4 450 1048.7C443 1051.9 436.3 1055.6 430 1060C423.7 1064.4 417.8 1069.5 412.5 1075C407.4 1080.3 402 1085.8 398.7 1092.4C395.2 1099.4 394.1 1107.4 392.5 1115C390.4 1124.9 388.8 1134.9 387.5 1145C385.9 1157.3 384.6 1169.6 383.7 1182C382.8 1194.6 382.3 1207.3 382 1220C381.2 1253.3 380.7 1286.7 380.5 1320C380.1 1380 379.7 1440 380 1500C380.3 1556.7 383.4 1613.3 382.1 1670C381.1 1710.1 375.1 1749.9 372.9 1790C372 1806.6 373.7 1823.4 372.9 1840C372.6 1846.4 371.2 1852.8 369.7 1859C368.1 1865.5 366 1871.8 363.6 1878C361.8 1882.5 359.6 1886.8 357.3 1891C355.7 1894 353.7 1896.7 351.8 1899.5C350.6 1901.4 349.3 1903.2 348 1905"/>
<path class="a" d="M1147.4 979.7L1158.9 971.7L1153.7 978.5L1160 977.4L1153.7 978.5L1161.1 983Z"/>
<circle class="c" cx="1143.2" cy="980.5" r="4.3"/>
<path class="e" d="M1139 981.3C1137.3 981.9 1135.1 981.7 1133.8 983C1130.9 985.8 1128.7 989.3 1127 993C1123 1001.6 1120.6 1010.9 1117 1019.7C1112.9 1029.8 1110.7 1041.1 1104 1049.7C1098.1 1057.2 1089.4 1062.7 1080.5 1066C1059 1073.9 1036.5 1079 1014 1083C991.9 1086.9 969.4 1088.5 947 1089.6C924.9 1090.7 902.7 1090.5 880.6 1089.6C833.7 1087.7 786.9 1083.4 740 1081C710 1079.5 680 1078.7 650 1078C630.3 1077.5 610.7 1077.2 591 1077.4C574.8 1077.6 558.5 1078 542.3 1079.2C525.6 1080.4 509 1082 492.4 1084.4C483.9 1085.6 475.6 1087.7 467.4 1090C458.9 1092.4 450.6 1095.3 442.4 1098.7C435.5 1101.5 428.7 1104.7 422.4 1108.6C417.1 1111.9 412.2 1115.8 407.5 1120C404.2 1123 400.5 1125.9 398.7 1129.9C395.8 1136.2 395.2 1143.3 393.7 1150C391.9 1158.3 390 1166.6 388.7 1175C387.1 1185.6 385.9 1196.3 385 1207C384 1218 383.2 1229 383 1240C382.2 1273.3 382.1 1306.7 382 1340C381.8 1393.3 381.9 1446.7 382 1500C382.2 1556.7 384.2 1613.3 382.9 1670C382 1710.1 377.2 1750 375.5 1790C374.8 1806.7 376.3 1823.4 375.5 1840C375.2 1846.4 373.8 1852.8 372.2 1859C370.6 1865.5 368.5 1871.8 366 1878C364.2 1882.5 361.8 1886.8 359.3 1891C357.5 1894 355.2 1896.8 353 1899.5C351.4 1901.4 349.7 1903.2 348 1905"/>
<path class="a" d="M1168.7 1229L1181.6 1223.4L1175.1 1229.1L1181.5 1229.2L1175.1 1229.1L1181.4 1234.9Z"/>
<circle class="c" cx="1164.4" cy="1229" r="4.3"/>
<path class="e" d="M1160.2 1229C1149.1 1227.6 1138 1226.8 1127 1225C1111.4 1222.5 1095.9 1219.3 1080.5 1216C1058.3 1211.3 1036.1 1206.1 1014 1201C991.6 1195.8 969.4 1190.3 947 1185C924.9 1179.8 902.9 1174.2 880.6 1169.6C858.5 1165 836.2 1161.5 814 1157.6C789.3 1153.2 764.7 1149 740 1144.6C713.3 1139.8 686.8 1134.3 660 1130C637.1 1126.3 614.1 1122.8 591 1120.6C574.8 1119.1 558.5 1118.9 542.3 1118.9C525.7 1118.9 509 1119.4 492.4 1120.6C484 1121.2 475.7 1122.7 467.4 1124.4C459 1126.2 450.5 1128.2 442.4 1131C435.5 1133.4 428.8 1136.5 422.4 1140C417.1 1142.9 412.1 1146.2 407.5 1150C404.1 1152.8 400.4 1155.7 398.7 1159.8C396.1 1166.1 396.3 1173.3 395 1180C393.4 1188.3 391.2 1196.6 390 1205C388.3 1216.6 386.7 1228.3 386.2 1240C384.8 1273.3 384.7 1306.7 384.5 1340C384.2 1393.3 384.6 1446.7 384.5 1500C384.4 1556.7 385.1 1613.3 383.9 1670C383.2 1710 380 1750 378.8 1790C378.2 1806.7 379.5 1823.4 378.8 1840C378.5 1846.4 377.1 1852.8 375.5 1859C373.9 1865.5 371.8 1871.9 369.2 1878C367.3 1882.6 364.8 1886.9 362 1891C359.9 1894.1 357.3 1896.8 354.6 1899.5C352.6 1901.5 350.2 1903.2 348 1905"/>
<path class="a" d="M1133.7 1447.3L1147.7 1446.8L1139.6 1449.7L1145.5 1452.2L1139.6 1449.7L1143.3 1457.5Z"/>
<circle class="c" cx="1129.7" cy="1445.7" r="4.3"/>
<path class="e" d="M1125.8 1444.1C1124.2 1443.7 1121.9 1443.8 1120.5 1443C1108.3 1436.5 1092.2 1427.3 1080.5 1420C1060.3 1407.4 1033.9 1389.7 1014 1376.6C983.9 1356.7 943.8 1330.2 914 1310C887.7 1292.2 852.8 1268.4 827 1250C820.4 1245.3 812.7 1237.6 806 1233C784.4 1218 756.5 1196.4 733 1184.6C720.2 1178.2 700.7 1175.9 686.6 1173C672.7 1170.2 654 1167.3 640 1165.5C625.3 1163.6 605.7 1161.8 591 1160.6C576.4 1159.4 556.9 1157.8 542.3 1157.3C527.3 1156.8 507.4 1156.6 492.4 1157C484.9 1157.2 474.9 1158.2 467.4 1159.3C459.8 1160.4 449.8 1162.4 442.4 1164.3C436.3 1165.9 428.2 1168.4 422.4 1171C417.6 1173.1 411.7 1176.9 407.5 1180C404.5 1182.2 400.2 1185.2 398.7 1188.5C396.6 1193.1 397 1200.1 396.2 1205C395.2 1211 393.6 1219 392.5 1225C391.7 1229.5 390.2 1235.4 390 1240C388.7 1270 387.8 1310 387.5 1340C386.9 1388 387.4 1452 387 1500C386.6 1551 385.9 1619 385 1670C384.4 1706 382.6 1754 382 1790C381.7 1805 382.7 1825 382 1840C381.7 1845.8 380.3 1853.4 378.9 1859C377.5 1864.8 375 1872.5 372.6 1878C370.8 1882.1 367.7 1887.4 365 1891C362.8 1893.9 359.3 1897.2 356.5 1899.5C354.2 1901.4 350.6 1903.3 348 1905"/>
<path class="a" d="M1158.8 1695.5L1172.2 1699.5L1163.6 1699.7L1168.5 1703.8L1163.6 1699.7L1164.8 1708.2Z"/>
<circle class="c" cx="1155.5" cy="1692.8" r="4.3"/>
<path class="e" d="M1152.3 1690C1146.7 1682.9 1139.5 1673.3 1133.8 1666.4C1118 1647.2 1096.7 1621.9 1080.5 1603C1060.7 1579.9 1034 1549.4 1014 1526.5C993.9 1503.5 967 1473 947 1450C927 1427 901.2 1395.5 880.6 1373C861.3 1351.9 833.6 1325.5 814 1304.6C788.4 1277.2 759 1235.8 730 1212C719.6 1203.4 699.7 1203.1 686.6 1200C672.7 1196.7 654.1 1192.7 640 1190.5C625.4 1188.2 605.8 1186 591 1184.8C576.4 1183.7 556.9 1183.1 542.3 1182.8C527.3 1182.5 507.4 1182.4 492.4 1182.8C484.9 1183 474.9 1183.8 467.4 1184.8C459.8 1185.8 449.8 1187.5 442.4 1189.3C436.3 1190.8 428.1 1193.3 422.4 1196C417.5 1198.3 411.6 1202.5 407.5 1206C404.4 1208.6 400.4 1212.4 398.7 1216C397.3 1219 397.9 1223.7 397.5 1227C397 1230.9 395.8 1236.1 395.5 1240C394 1258 392.1 1282 391.5 1300C390.5 1330 390.3 1370 390 1400C389.7 1430 389.9 1470 389.5 1500C388.8 1551 386.8 1619 386.1 1670C385.5 1706 385.4 1754 385.2 1790C385.2 1805 385.9 1825 385.2 1840C385 1845.8 383.7 1853.4 382.4 1859C381.1 1864.8 378.7 1872.5 376.3 1878C374.5 1882.2 371.2 1887.5 368.3 1891C365.8 1894 361.8 1897.3 358.6 1899.5C355.7 1901.5 351.2 1903.3 348 1905"/>
<path class="a" d="M1146.4 1895.3L1159.9 1891.6L1152.7 1896.3L1159 1897.3L1152.7 1896.3L1158.1 1903Z"/>
<circle class="c" cx="1142.1" cy="1894.6" r="4.3"/>
<path class="e" d="M1137.9 1894C1136 1892.5 1133.6 1891.4 1132 1889.5C1128.2 1884.9 1124.7 1879.9 1122 1874.5C1118 1866.5 1115.1 1858.1 1112 1849.7C1107.9 1838.6 1105.6 1826.7 1100.5 1816C1095 1804.4 1087.6 1793.7 1080.5 1783C1065.4 1760.4 1049.8 1738.1 1034 1716C1016.5 1691.5 999.5 1666.5 980.6 1643C959.4 1616.6 937.3 1591 914 1566.5C895.1 1546.6 875.4 1527.3 854 1510C837.9 1497 819.8 1486.5 802 1476C791.6 1469.9 780.4 1465.1 769.5 1460C756.4 1453.9 743.7 1447 730 1442.4C713.7 1436.9 696.8 1433.6 680 1430C663.4 1426.5 646.7 1423.5 630 1421C613.4 1418.5 596.7 1416.4 580 1415C563.4 1413.6 546.7 1412.8 530 1412.5C513.3 1412.2 496.6 1412.1 480 1413C466.6 1413.7 453 1414.2 440 1417.5C430.1 1420 419.8 1423.4 412 1430C406.3 1434.8 403.3 1442.7 402 1450C399.1 1466.4 399.9 1483.3 399.7 1500C399.1 1550 399.9 1600 399.7 1650C399.6 1675.3 399.6 1700.7 399 1726C398.8 1732.4 397.8 1738.7 397.3 1745C396.6 1754.5 396 1764.1 395.6 1773.6C395.2 1783.1 395 1792.5 395 1802C395.1 1814.6 396.3 1827.2 395.9 1839.8C395.7 1846.2 394.8 1852.7 393 1858.8C391 1865.4 388.6 1872.1 384.6 1877.7C380.6 1883.2 374.7 1887.2 369.4 1891.5C364.8 1895.2 359.9 1898.4 355 1901.5C352.8 1902.9 350.3 1903.8 348 1905"/>
<path class="a" d="M401 1303.1L412.2 1294.7L407.3 1301.7L413.5 1300.3L407.3 1301.7L414.8 1306Z"/>
<circle class="c" cx="396.8" cy="1304" r="4.3"/>
<path class="e" d="M392.7 1305C391.3 1306.3 389.7 1307.5 388.5 1309C385 1313.5 381.2 1317.9 378.8 1323C375.3 1330.3 372.9 1338.1 371 1346C368.3 1356.9 366.3 1367.9 365 1379C363.9 1388.6 363.7 1398.3 363.7 1408C363.7 1421 364.3 1434 364.8 1447C365.2 1458 365.9 1469 366.5 1480C367.1 1492.7 367.4 1505.4 368.4 1518C369.9 1537 372.2 1556 374 1575C376.3 1600 378.8 1625 380.7 1650C382 1666.6 383.3 1683.3 383.5 1700C383.8 1730 382.3 1760 382 1790C381.8 1806.7 382.7 1823.3 382 1840C381.7 1846.4 380.5 1852.8 378.9 1859C377.3 1865.5 375.3 1871.9 372.6 1878C370.6 1882.6 368 1887 365 1891C362.6 1894.2 359.6 1897 356.5 1899.5C353.9 1901.6 350.8 1903.2 348 1905"/>
<path class="a" d="M470.7 1559.8L483.2 1553.4L477.1 1559.5L483.5 1559.2L477.1 1559.5L483.8 1564.9Z"/>
<circle class="c" cx="466.5" cy="1560" r="4.3"/>
<path class="e" d="M462.2 1560.2C459.3 1561.3 456.2 1561.7 453.6 1563.3C448.2 1566.6 442.7 1570 438.5 1574.7C434 1579.6 430.6 1585.6 428 1591.7C425.2 1598.3 423.6 1605.5 422.4 1612.6C420.8 1622 420.6 1631.5 419.5 1641C418.4 1650.5 417.4 1660 415.8 1669.4C414.2 1678.9 412.4 1688.4 410 1697.8C408 1705.5 405 1712.9 402.5 1720.5C401.2 1724.3 399.6 1728 398.7 1731.9C397.7 1736.2 397.2 1740.6 396.8 1745C395.9 1754.5 395.4 1764.1 394.9 1773.6C394.4 1783.1 394 1792.5 394 1802C394 1814.6 395.3 1827.2 394.9 1839.8C394.7 1846.2 393.8 1852.7 392 1858.8C390 1865.4 387.7 1872.1 383.6 1877.7C379.6 1883.1 373.7 1886.8 368.4 1891C363.8 1894.6 358.8 1897.7 354 1901C352 1902.4 350 1903.7 348 1905"/>
<path class="a" d="M450.9 1812.9L462.6 1805.1L457.2 1811.9L463.5 1810.8L457.2 1811.9L464.4 1816.5Z"/>
<circle class="c" cx="446.7" cy="1813.6" r="4.3"/>
<path class="e" d="M442.4 1814.3C439.9 1815.9 437 1817.1 434.7 1819C430 1823 425.3 1827.2 421.4 1832C417.1 1837.3 413.8 1843.3 410 1849C406.2 1854.7 402.7 1860.5 398.7 1866C395.1 1871 391.5 1876 387.3 1880.4C382.7 1885.3 377.7 1889.9 372.2 1893.8C367.5 1897.1 362.2 1899.6 357 1902C354.1 1903.3 351 1904 348 1905"/>
<path class="a" d="M771.2 1893.3L784 1887.6L777.6 1893.3L784 1893.3L777.6 1893.3L784 1899.1Z"/>
<circle class="c" cx="766.9" cy="1893.3" r="4.3"/>
<path class="e" d="M762.7 1893.3C741.8 1893.4 720.9 1893.2 700 1893.7C666.7 1894.5 633.3 1895.6 600 1897C566.7 1898.4 533.4 1900.7 500 1902C466.7 1903.3 433.3 1904 400 1904.7C382.7 1905 365.3 1904.9 348 1905"/>
<path class="a" d="M457.4 2008.8L470.9 2005.1L463.7 2009.8L470 2010.8L463.7 2009.8L469.1 2016.5Z"/>
<circle class="c" cx="453.2" cy="2008.1" r="4.3"/>
<path class="e" d="M448.9 2007.4C445.6 2005.5 441.9 2004 438.9 2001.6C433.3 1997.2 427.8 1992.7 423.3 1987.3C417.3 1980.1 412.7 1971.8 407.7 1963.9C402.3 1955.3 397.9 1946.1 392 1937.9C386.6 1930.4 381.2 1922.5 373.8 1917C366.2 1911.3 356.6 1909 348 1905"/>
<path class="a" d="M1158.2 2122L1170.5 2115.1L1164.6 2121.4L1171 2120.8L1164.6 2121.4L1171.5 2126.6Z"/>
<circle class="c" cx="1154" cy="2122.3" r="4.3"/>
<path class="e" d="M1149.7 2122.7C1148 2123.6 1146 2124.3 1144.4 2125.5C1141.3 2127.8 1138.1 2130 1135.7 2133C1133.4 2135.9 1131.9 2139.5 1130.5 2143C1129.6 2145.2 1129.2 2147.6 1129 2150C1128.2 2159 1128.2 2168 1127.6 2177C1127 2186.1 1126.4 2195.3 1125.5 2204.4C1124.6 2213.5 1123.7 2222.6 1122 2231.6C1120.7 2238.5 1119.1 2245.4 1116.7 2252C1114.1 2259 1111.2 2266 1107.2 2272.3C1103.4 2278.3 1098.9 2283.9 1093.6 2288.6C1089.7 2292.1 1085.2 2295.6 1080 2296.8C1058.3 2301.7 1036 2303.5 1014 2306.6C980.7 2311.3 947.5 2317.4 914 2320C878.1 2322.8 842 2322.3 806 2323C761.7 2323.8 717.3 2324.8 673 2324.6C628.7 2324.4 584.3 2324.4 540 2322C513.2 2320.5 486.3 2318.2 460 2313C443.8 2309.8 427.6 2304.8 413 2297C406.3 2293.4 401 2286.9 398 2280C393.9 2270.7 393.3 2260.1 392.4 2250C390.9 2233.4 391.1 2216.7 391 2200C390.7 2153.3 391.2 2106.7 391.2 2060C391.3 2030 391.8 2000 391.2 1970C391.1 1963.6 390.3 1957.3 389.1 1951C387.8 1944.5 386.4 1938 383.7 1932C381.7 1927.2 378.7 1922.7 375.1 1919C371.7 1915.5 367.4 1912.8 363.1 1910.5C358.3 1908 353 1906.8 348 1905"/>
<path class="a" d="M470.7 2414.7L484 2410.1L477.1 2415.3L483.5 2415.8L477.1 2415.3L483 2421.6Z"/>
<circle class="c" cx="466.5" cy="2414.3" r="4.3"/>
<path class="e" d="M462.2 2414C457.7 2411.2 452.9 2408.8 448.7 2405.6C443.2 2401.4 437.3 2397.5 433 2392C428 2385.6 424.7 2378.1 421.5 2370.7C417.6 2361.9 415.3 2352.5 411.8 2343.5C408.8 2335.6 404.6 2328.1 402 2320C399.1 2311.2 396.9 2302.1 395.3 2293C393.1 2280.1 391.3 2267.1 390.5 2254C389.4 2236 389.6 2218 389.5 2200C389.1 2153.3 389.1 2106.7 389 2060C388.9 2030 389.7 2000 389 1970C388.9 1963.6 387.9 1957.2 386.6 1951C385.2 1944.5 383.5 1938 380.9 1932C378.8 1927.3 375.9 1922.8 372.4 1919C369.3 1915.5 365.4 1912.8 361.3 1910.5C357.1 1908.1 352.4 1906.8 348 1905"/>
<path class="a" d="M1134.2 2401.8L1146.7 2395.4L1140.6 2401.5L1147 2401.2L1140.6 2401.5L1147.3 2406.9Z"/>
<circle class="c" cx="1130" cy="2402" r="4.3"/>
<path class="e" d="M1125.7 2402.2C1119.5 2402.5 1113.2 2402.1 1107 2403C1098.1 2404.2 1089.3 2406.6 1080.5 2408.5C1058.3 2413.3 1036 2417.5 1014 2423C980.5 2431.4 947.7 2442.4 914 2450C878.4 2458.1 842.1 2462.6 806.4 2470C772.9 2476.9 739.7 2485.3 706.4 2493C673.1 2500.8 640.2 2510.8 606.5 2516.5C573.5 2522 540.1 2525.5 506.6 2526.5C489.8 2527 473 2523.9 456.5 2521C446.5 2519.2 436.6 2516.6 427.4 2512.4C418.9 2508.5 411 2503.2 404 2497C397.8 2491.5 392.3 2484.9 388.5 2477.5C383.8 2468.3 381.1 2458.1 378.8 2448C375.9 2435.3 374.2 2422.4 373 2409.5C371.8 2396.6 371.7 2383.6 371.5 2370.7C371.3 2357.8 371.5 2344.9 372 2332C373 2306 374.9 2280 376 2254C376.7 2236 378 2218 377.5 2200C376.3 2153.3 372.3 2106.7 371 2060C370.2 2030 371.9 2000 371 1970C370.8 1963.6 369.3 1957.2 367.8 1951C366.3 1944.5 364.2 1938.2 361.9 1932C360.3 1927.5 358.2 1923.2 356 1919C354.5 1916.1 352.7 1913.3 351.1 1910.5C350 1908.7 349 1906.8 348 1905"/>
<path class="a" d="M839.7 2615.2L852.8 2610.1L846.1 2615.5L852.5 2615.8L846.1 2615.5L852.2 2621.6Z"/>
<circle class="c" cx="835.4" cy="2615" r="4.3"/>
<path class="e" d="M831.2 2614.8C827.4 2614.2 823.3 2614.4 819.7 2613C810.5 2609.4 801.5 2604.9 793 2599.8C779.2 2591.5 767.6 2579.7 753 2573C738.3 2566.3 722.4 2562 706.4 2560C673.3 2555.9 639.8 2556.2 606.5 2555C573.2 2553.8 539.9 2554.3 506.6 2553C489.9 2552.4 473.1 2551.4 456.5 2549.3C448.5 2548.3 440.5 2546.5 433 2543.5C424.2 2540 415.5 2535.8 408 2530C401.8 2525.2 396.4 2519.2 392.4 2512.4C387.8 2504.6 384.9 2495.8 382.7 2487C379.4 2474.2 377.3 2461.1 376 2448C374.1 2428.7 373.3 2409.4 373 2390C372.7 2370.7 373.3 2351.3 374 2332C375 2306 376.9 2280 378 2254C378.7 2236 379.9 2218 379.5 2200C378.5 2153.3 375.1 2106.7 374 2060C373.3 2030 374.9 2000 374 1970C373.8 1963.6 372.3 1957.2 370.8 1951C369.1 1944.5 367 1938.2 364.6 1932C362.8 1927.5 360.5 1923.2 358.1 1919C356.4 1916 354.3 1913.3 352.3 1910.5C350.9 1908.6 349.4 1906.8 348 1905"/>
<path class="a" d="M470.8 2680.1L484.2 2675.9L477.1 2680.9L483.5 2681.7L477.1 2680.9L482.8 2687.4Z"/>
<circle class="c" cx="466.6" cy="2679.6" r="4.3"/>
<path class="e" d="M462.3 2679.1C455 2674.4 446.6 2671.2 440.5 2665C433.6 2658 428.1 2649.5 424.2 2640.5C419 2628.4 416.7 2615.2 413.4 2602.5C410.4 2590.7 408 2578.8 405.2 2567C402.7 2556.3 398.9 2545.9 397.5 2535C395.2 2516.8 394.4 2498.4 394 2480C392.6 2420 392.4 2360 392 2300C391.8 2266.7 391.9 2233.3 392 2200C392.1 2153.3 392.6 2106.7 392.8 2060C392.8 2030 393.3 2000 392.8 1970C392.6 1963.6 392 1957.3 390.8 1951C389.6 1944.6 388.3 1938 385.7 1932C383.6 1927.2 380.7 1922.7 377 1919C373.4 1915.4 368.9 1912.7 364.3 1910.5C359.1 1908 353.4 1906.8 348 1905"/>
<path class="a" d="M1159.2 2712.9L1171.9 2706.9L1165.6 2712.8L1172 2712.7L1165.6 2712.8L1172.1 2718.4Z"/>
<circle class="c" cx="1154.9" cy="2713" r="4.3"/>
<path class="e" d="M1150.7 2713.1C1142.8 2713.7 1134.9 2714 1127 2715C1111.5 2716.9 1096 2719.6 1080.5 2721.6C1058.4 2724.5 1036.2 2727.1 1014 2729.6C977 2733.8 940 2737.6 903 2741.7C848.6 2747.7 794.2 2754.2 739.7 2759.7C695.3 2764.2 651 2768.6 606.5 2771.7C573.3 2774 539.9 2776.1 506.6 2776C487.2 2775.9 467.8 2774.2 448.7 2771C435.7 2768.8 422.5 2765.9 410.7 2760C403.8 2756.6 397.8 2750.7 394.3 2743.8C388.8 2732.9 386.7 2720.5 384.8 2708.5C381.7 2688.7 380.2 2668.7 379.4 2648.7C377.9 2612.5 378.1 2576.2 378 2540C377.8 2460 378 2380 378.5 2300C378.7 2266.7 380.5 2233.3 380 2200C379.3 2153.3 375.8 2106.7 374.8 2060C374.1 2030 375.6 2000 374.8 1970C374.6 1963.6 373 1957.2 371.5 1951C369.9 1944.5 367.7 1938.2 365.3 1932C363.5 1927.5 361.2 1923.2 358.7 1919C356.9 1916 354.7 1913.3 352.6 1910.5C351.2 1908.6 349.5 1906.8 348 1905"/>
<path class="a" d="M1134.2 2964L1147.1 2958.4L1140.6 2964.1L1147 2964.2L1140.6 2964.1L1146.9 2969.9Z"/>
<circle class="c" cx="1129.9" cy="2964" r="4.3"/>
<path class="e" d="M1125.7 2964C1123.8 2964 1121.9 2964.1 1120 2964C1111.7 2963.5 1103.3 2963 1095 2962C1081.6 2960.4 1068.2 2958.9 1055 2956C1038.1 2952.3 1021.4 2948 1005 2942.5C988 2936.8 971.3 2929.9 955 2922.5C937.3 2914.4 920.7 2904.1 903 2896C882.2 2886.5 860.9 2878.2 839.7 2869.6C817.5 2860.6 795.6 2850.7 773 2843C751.2 2835.5 729.3 2827.2 706.4 2824C673.4 2819.4 639.8 2820.9 606.5 2819.6C573.2 2818.3 539.8 2818.9 506.6 2816C487.1 2814.3 467.6 2811.1 448.7 2806C435.4 2802.4 422.3 2797.4 410.7 2790C403.7 2785.5 397.6 2778.7 394.3 2771C388.7 2758.1 386.3 2743.9 384.8 2730C381.8 2703 381.5 2675.8 380.8 2648.7C379.9 2612.5 380 2576.2 380 2540C380 2460 380.5 2380 381 2300C381.2 2266.7 382.5 2233.3 382 2200C381.4 2153.3 378.6 2106.7 377.8 2060C377.2 2030 378.6 2000 377.8 1970C377.6 1963.6 376.1 1957.2 374.5 1951C372.9 1944.5 370.8 1938.2 368.2 1932C366.3 1927.5 363.8 1923.1 361.1 1919C359.1 1915.9 356.6 1913.2 354.1 1910.5C352.2 1908.5 350 1906.8 348 1905"/>
<path class="a" d="M456.3 3121.3L469.8 3117.5L462.7 3122.2L469 3123.2L462.7 3122.2L468.2 3128.9Z"/>
<circle class="c" cx="452.1" cy="3120.7" r="4.3"/>
<path class="e" d="M447.9 3120.1C441.8 3119.2 435.4 3119.7 429.7 3117.5C421.9 3114.6 414 3110.8 408 3105C401.9 3099.1 397.2 3091.5 394.3 3083.5C391.2 3074.8 390.7 3065.3 390.3 3056C389.8 3042.5 390.5 3029 391.6 3015.5C393.2 2997.3 396.3 2979.2 398.4 2961C400.4 2943 402.8 2924.9 403.9 2906.8C405 2888.7 405.4 2870.6 405.2 2852.5C404.9 2829.9 402.8 2807.2 402.5 2784.6C401.3 2703.1 401.2 2621.5 400.5 2540C399.8 2460 399.3 2380 398.5 2300C398.2 2266.7 396.9 2233.3 397.2 2200C397.6 2153.3 399.9 2106.7 400.5 2060C401 2030 400.8 2000 400.5 1970C400.5 1963.7 400.4 1957.3 399.5 1951C398.6 1944.6 397.8 1938 395.3 1932C393.2 1927.1 389.9 1922.5 385.8 1919C381.3 1915.1 375.7 1912.6 370.1 1910.5C363 1907.9 355.4 1906.8 348 1905"/>
<path class="a" d="M470.8 3402.8L484.1 3398.4L477.1 3403.5L483.5 3404.2L477.1 3403.5L482.9 3409.9Z"/>
<circle class="c" cx="466.5" cy="3402.3" r="4.3"/>
<path class="e" d="M462.3 3401.9C459.5 3400.7 456.5 3400.1 454 3398.4C448.2 3394.4 442.2 3390.3 437.8 3384.8C431.2 3376.5 425.5 3367.4 421.5 3357.6C416.8 3346.2 415.1 3333.9 412 3322C409.2 3311.3 405.9 3300.6 403.9 3289.7C401.8 3277.9 400.5 3266 399.8 3254C398.7 3236 398.4 3218 398.4 3200C398.3 3133.3 399.3 3066.7 399.5 3000C400 2866.7 400.5 2733.3 400.5 2600C400.5 2500 400.1 2400 399.5 2300C399.3 2266.7 397.7 2233.3 398 2200C398.4 2153.3 401 2106.7 401.8 2060C402.2 2030 402 2000 401.8 1970C401.7 1963.7 401.6 1957.3 400.7 1951C399.8 1944.6 399 1938 396.4 1932C394.2 1927 390.8 1922.5 386.7 1919C382 1915.1 376.3 1912.6 370.6 1910.5C363.3 1907.9 355.5 1906.8 348 1905"/>
<path class="a" d="M480.3 3596.4L493.6 3592.1L486.6 3597.1L493 3597.8L486.6 3597.1L492.4 3603.6Z"/>
<circle class="c" cx="476" cy="3596" r="4.3"/>
<path class="e" d="M471.8 3595.5C466.8 3594.1 461.4 3593.7 456.8 3591.3C449.9 3587.7 443.1 3583.4 437.8 3577.7C431.1 3570.4 426.3 3561.6 421.5 3553C416.7 3544.4 413 3535.2 409.3 3526C405.7 3517.1 401.7 3508.4 399.8 3499C397.1 3485.5 396.4 3471.7 395.7 3458C394.6 3435.4 394.5 3412.7 394.3 3390C393.8 3326.7 393.4 3263.3 393.5 3200C393.7 3000 394.7 2800 395 2600C395.2 2500 395 2400 395 2300C395 2266.7 394.7 2233.3 395 2200C395.4 2153.3 396.8 2106.7 397.2 2060C397.5 2030 397.6 2000 397.2 1970C397.2 1963.7 397 1957.3 396.1 1951C395.2 1944.6 394.4 1938 391.9 1932C389.9 1927.1 386.8 1922.5 383 1919C378.8 1915.2 373.5 1912.6 368.3 1910.5C361.8 1907.9 354.8 1906.8 348 1905"/>
<path class="a" d="M484.2 3848.3L497.5 3843.6L490.6 3848.8L497 3849.3L490.6 3848.8L496.5 3855.1Z"/>
<circle class="c" cx="480" cy="3848" r="4.3"/>
<path class="e" d="M475.7 3847.6C471.3 3845.1 466.2 3843.4 462.3 3840C455.3 3833.9 448.3 3827.5 443.3 3819.6C436.3 3808.6 431.4 3796.3 427 3784C422.3 3770.8 419 3757.2 416 3743.5C412.7 3728.2 411 3712.6 408 3697.3C406 3687.3 402.9 3677.5 401.1 3667.4C399.2 3656.6 397.7 3645.7 397 3634.8C395.9 3616.6 395.8 3598.3 395.7 3580C394.9 3453.3 394.7 3326.7 394.3 3200C393.7 3000 393 2800 392.7 2600C392.6 2500 392.8 2400 393 2300C393.1 2266.7 393.2 2233.3 393.5 2200C393.9 2153.3 394.7 2106.7 395 2060C395.2 2030 395.4 2000 395 1970C394.9 1963.6 394.5 1957.3 393.4 1951C392.4 1944.6 391.3 1938 388.8 1932C386.7 1927.2 383.7 1922.6 379.9 1919C376 1915.3 371.2 1912.7 366.2 1910.5C360.4 1907.9 354.1 1906.8 348 1905"/>
<path class="a" d="M1143.2 3624.4L1155.8 3618.2L1149.6 3624.2L1156 3624L1149.6 3624.2L1156.2 3629.8Z"/>
<circle class="c" cx="1138.9" cy="3624.5" r="4.3"/>
<path class="e" d="M1134.7 3624.7C1133.1 3624.9 1131.5 3625 1130 3625.3C1121.1 3627.2 1112 3628.4 1103.3 3631.2C1092.8 3634.5 1082.5 3638.6 1072.7 3643.5C1062.1 3648.8 1051.7 3654.6 1042.2 3661.8C1027.8 3672.7 1014.6 3685 1001.5 3697.4C984.1 3713.9 967.1 3730.9 950.6 3748.3C936.6 3763.1 923.9 3779.1 909.9 3794C896.7 3808 883.7 3822.1 869.2 3834.8C856.4 3846 842.6 3855.9 828.5 3865.3C812 3876.3 795.3 3887 777.6 3895.8C761.3 3904 744 3910.2 726.7 3916.2C706.6 3923.1 686.4 3929.7 665.7 3934.5C642.2 3939.9 618.3 3943.4 594.4 3946.7C570.8 3949.9 547 3953 523.2 3953.9C502.8 3954.7 482.3 3954.2 462.1 3951.8C448.2 3950.1 433.7 3948.2 421.4 3941.6C410.9 3935.9 401.8 3926.7 396 3916.2C390.9 3906.9 391.6 3895.5 390 3885C387.9 3871.7 386.4 3858.4 385 3845C383.3 3829.3 381.6 3813.6 380.8 3797.8C378.9 3761.6 377.5 3725.3 376.7 3689C375.7 3643.7 375.3 3598.3 375.3 3553C375.3 3516.9 376.1 3480.7 376.7 3444.6C377.8 3376.4 379.3 3308.2 380.2 3240C382.4 3083.3 385 2926.7 386 2770C386.6 2680 385.3 2590 385 2500C384.8 2433.3 384.6 2366.7 384.5 2300C384.4 2266.7 384.9 2233.3 384.5 2200C383.9 2153.3 382.1 2106.7 381.5 2060C381.1 2030 382.3 2000 381.5 1970C381.3 1963.6 380 1957.2 378.4 1951C376.8 1944.5 374.8 1938.1 372.1 1932C370.1 1927.4 367.5 1923 364.5 1919C362.2 1915.8 359.2 1913.1 356.2 1910.5C353.7 1908.4 350.7 1906.8 348 1905"/>
<path class="a" d="M441.4 4047.3L454.9 4043.6L447.7 4048.3L454 4049.3L447.7 4048.3L453.1 4055Z"/>
<circle class="c" cx="437.2" cy="4046.6" r="4.3"/>
<path class="e" d="M432.9 4045.9C431.8 4045.4 430.4 4045.3 429.6 4044.4C424.8 4039.2 419 4034.5 416.3 4028C411 4015.1 408.4 4001.2 406 3987.5C403.3 3971.8 402.3 3955.9 401 3940C399.9 3926.7 398.8 3913.4 398.6 3900C397.6 3820.7 397.8 3741.3 397.6 3662C397.2 3508 397 3354 397 3200C397 3000 397.5 2800 397.5 2600C397.5 2500 397.3 2400 397 2300C396.9 2266.7 396 2233.3 396.3 2200C396.7 2153.3 398.6 2106.7 399.2 2060C399.6 2030 399.5 2000 399.2 1970C399.1 1963.7 399 1957.3 398.2 1951C397.3 1944.6 396.6 1938 394.1 1932C392 1927.1 388.9 1922.5 384.9 1919C380.5 1915.1 375 1912.6 369.5 1910.5C362.6 1907.9 355.2 1906.8 348 1905"/>
<path class="a" d="M1147.3 730.3L1156.6 719.8L1153.2 727.6L1159 725L1153.2 727.6L1161.4 730.2Z"/>
<circle class="c" cx="1143.5" cy="732.1" r="4.3"/>
<path class="e" d="M1139.6 733.8C1137.2 738 1134.1 742 1132.5 746.5C1127.8 759.6 1122.9 772.8 1120.5 786.5C1116.2 810.8 1114.1 835.4 1112.5 860C1110.3 893.3 1109.3 926.6 1109 960C1108.6 1004.3 1109.7 1048.7 1110.5 1093C1111.3 1137.3 1112.5 1181.7 1113.8 1226C1115.3 1277.3 1117.6 1328.7 1118.9 1380C1119.6 1404.8 1119.3 1429.7 1119.8 1454.5C1120.3 1479.3 1121.1 1504.2 1121.7 1529C1122.3 1553.9 1123.1 1578.7 1123.2 1603.6C1123.2 1622.2 1122.7 1640.9 1122 1659.5C1121 1684.3 1119.9 1709.2 1118 1734C1116.1 1758.9 1114.6 1783.9 1110.5 1808.6C1108.2 1822.4 1105.6 1836.6 1099 1849C1095.3 1855.9 1087 1859 1081 1864"/>
<path class="a" d="M1149.1 1013.4L1157 1001.8L1154.5 1010L1160 1006.7L1154.5 1010L1163 1011.6Z"/>
<circle class="c" cx="1145.4" cy="1015.6" r="4.3"/>
<path class="e" d="M1141.8 1017.8C1140.2 1021.8 1138.3 1025.6 1137 1029.7C1133.3 1041.7 1128.7 1053.6 1127 1066C1123.6 1091.2 1122.8 1116.6 1122 1142C1120.8 1181.3 1120.8 1220.7 1121 1260C1121.3 1300 1122.5 1340 1123.5 1380C1124 1398.7 1124.8 1417.3 1125.4 1436C1126 1454.6 1126.9 1473.2 1127.3 1491.8C1127.8 1516.6 1128.2 1541.5 1128.2 1566.3C1128.2 1597.4 1128 1628.4 1127.3 1659.5C1126.8 1684.3 1126 1709.2 1124.5 1734C1122.9 1758.9 1122.5 1784 1118 1808.6C1115.3 1823.7 1111.5 1839.3 1103 1852C1098.4 1858.9 1088.3 1860 1081 1864"/>
<path class="a" d="M1168.8 1260.4L1180.6 1252.8L1175.2 1259.5L1181.5 1258.5L1175.2 1259.5L1182.4 1264.2Z"/>
<circle class="c" cx="1164.6" cy="1261.1" r="4.3"/>
<path class="e" d="M1160.4 1261.7C1158.2 1264.5 1155.6 1267 1153.8 1270C1150 1276.4 1146.1 1282.9 1143.8 1290C1140.4 1300.7 1138.9 1311.9 1137 1323C1134.8 1335.3 1133 1347.6 1131.5 1360C1130.7 1366.6 1130.4 1373.3 1130 1380C1129.3 1392.3 1128.8 1404.7 1128.2 1417C1127.6 1429.5 1126.8 1442 1126.3 1454.5C1125.6 1473.1 1125 1491.8 1124.5 1510.4C1124 1529 1123.5 1547.7 1123.2 1566.3C1122.9 1584.9 1123 1603.4 1122.6 1622C1122.1 1646.9 1121.8 1671.8 1120.7 1696.7C1119.6 1721.6 1118.6 1746.5 1116 1771.3C1114 1790 1111.4 1808.8 1106.8 1827C1104.3 1836.9 1100.5 1846.7 1094.7 1855C1091.6 1859.5 1085.6 1861 1081 1864"/>
<path class="a" d="M1142.3 1417.5L1144.3 1428.9L1141.8 1429.4L1139.8 1417.9ZM1145.5 1422.8L1139.2 1423.9"/>
<circle class="c" cx="1135" cy="1424.7" r="4.3"/>
<path class="e" d="M1130.8 1425.4C1129.6 1426.4 1128.3 1427.2 1127.3 1428.4C1124 1432.6 1120.3 1436.7 1118 1441.5C1114.6 1448.6 1112.1 1456.1 1110.5 1463.8C1108 1476 1106.7 1488.5 1105.8 1501C1104.9 1513.4 1105 1525.9 1105.3 1538.4C1105.7 1553.9 1106.6 1569.5 1107.7 1585C1109 1603.7 1110.8 1622.3 1112.4 1640.9C1113.9 1659.5 1115.7 1678.1 1117 1696.7C1118.1 1712.2 1119.6 1727.7 1119.8 1743.3C1120 1758.9 1119.7 1774.5 1118 1790C1116.6 1802.5 1114.8 1815.2 1110.5 1827C1106.7 1837.5 1100.9 1847.3 1094 1856C1090.8 1860 1085.3 1861.3 1081 1864"/>
<path class="a" d="M1155.7 1732.2L1168.9 1727.4L1162.1 1732.7L1168.5 1733.2L1162.1 1732.7L1168.1 1738.9Z"/>
<circle class="c" cx="1151.5" cy="1731.9" r="4.3"/>
<path class="e" d="M1147.2 1731.6C1144.9 1734.3 1142.1 1736.5 1140.3 1739.6C1136.9 1745.4 1134 1751.6 1132 1758C1129.7 1765.3 1128.6 1773 1127.3 1780.6C1125.7 1789.9 1125.1 1799.3 1123.5 1808.5C1122 1816.7 1120.9 1825 1118 1832.8C1115.3 1840 1111.8 1847.1 1106.8 1853C1103.5 1856.8 1098.6 1859 1094 1861C1089.9 1862.7 1085.3 1863 1081 1864"/>
<path class="a" d="M1157.6 1920.6L1156 1932.1L1153.4 1931.7L1155.1 1920.2ZM1159 1926.7L1152.7 1925.8"/>
<circle class="c" cx="1148.4" cy="1925.1" r="4.3"/>
<path class="e" d="M1144.2 1924.5C1140.9 1922.4 1137.1 1920.8 1134.4 1918C1130.5 1914 1127.4 1909.2 1124.5 1904.4C1120.7 1898 1118.5 1890.7 1114.5 1884.5C1111 1879.1 1107.5 1873 1102 1869.6C1095.8 1865.8 1088 1865.9 1081 1864"/>
<path class="a" d="M1158.4 2148.1L1171.9 2144.5L1164.7 2149.1L1171 2150.2L1164.7 2149.1L1170.1 2155.8Z"/>
<circle class="c" cx="1154.2" cy="2147.4" r="4.3"/>
<path class="e" d="M1149.9 2146.7C1146.4 2144.6 1142.4 2143.3 1139.4 2140.5C1133.8 2135.3 1128.1 2129.8 1124.5 2123C1120.4 2115.3 1118.5 2106.6 1117 2098C1115.6 2089.8 1115.5 2081.3 1115.8 2073C1116.3 2060.6 1117.9 2048.3 1119.5 2036C1121.2 2023.5 1123.6 2011.2 1125.7 1998.8C1127.8 1986.4 1130.5 1974 1132 1961.5C1133.3 1950.7 1133.8 1939.9 1134 1929C1134.1 1922.3 1134.2 1915.6 1133 1909C1131.8 1902.3 1130.2 1895.5 1127 1889.5C1123.9 1883.8 1119.7 1878.4 1114.5 1874.5C1109.4 1870.7 1103.1 1868.9 1097 1867C1091.8 1865.4 1086.3 1865 1081 1864"/>
<path class="a" d="M1134.4 2486.7L1148.1 2483.5L1140.7 2488L1147 2489.2L1140.7 2488L1145.9 2494.8Z"/>
<circle class="c" cx="1130.2" cy="2485.9" r="4.3"/>
<path class="e" d="M1126 2485.1C1124.3 2484 1122.2 2483.2 1120.8 2481.7C1117.3 2477.9 1113.5 2474.1 1111.3 2469.4C1107.1 2460.7 1104.2 2451.4 1101.7 2442C1099.4 2433.2 1098 2424.1 1097 2415C1095.8 2403.7 1095.5 2392.3 1095.2 2381C1094.9 2372 1094.9 2363 1095.2 2354C1095.7 2340.3 1096.6 2326.6 1097.7 2313C1098.8 2299.4 1100.4 2285.9 1101.7 2272.3C1103.1 2258.7 1104.2 2245.1 1105.8 2231.6C1107.4 2218 1109.5 2204.4 1111.3 2190.8C1113.1 2177.2 1115.6 2163.7 1116.7 2150C1118.4 2127.6 1118.1 2105.2 1119.7 2082.8C1120.6 2070.3 1122.7 2057.9 1124.3 2045.5C1125.5 2036.2 1127.1 2026.9 1128 2017.6C1128.8 2008.3 1129.4 1999 1129.4 1989.7C1129.4 1980.4 1128.9 1971 1128 1961.7C1126.9 1950.4 1125.8 1939.1 1123.4 1928C1121.1 1917.3 1118.2 1906.7 1114 1896.6C1110.7 1888.6 1107.2 1880.1 1101 1874C1095.7 1868.8 1087.7 1867.3 1081 1864"/>
<path class="a" d="M1161.3 2764.3L1175.2 2766.5L1166.7 2767.8L1172 2771.3L1166.7 2767.8L1168.8 2776.1Z"/>
<circle class="c" cx="1157.8" cy="2761.9" r="4.3"/>
<path class="e" d="M1154.2 2759.5C1151.8 2757.4 1148.5 2755.9 1147 2753C1143.3 2745.7 1140.7 2737.7 1139 2729.6C1135.8 2714.2 1134.2 2698.6 1132.5 2683C1130.2 2660.8 1128.4 2638.6 1127 2616.4C1125.6 2594.2 1124.8 2571.9 1124 2549.7C1123.4 2533.1 1123 2516.6 1122.8 2500C1122.5 2472 1122.5 2444 1122.5 2416C1122.4 2387.3 1122.5 2358.7 1122.5 2330C1122.5 2294.1 1122.7 2258.3 1122.5 2222.4C1122.4 2203.8 1121.9 2185.2 1121.6 2166.6C1121.3 2148 1121.2 2129.3 1120.6 2110.7C1120 2092.1 1119.1 2073.4 1118.2 2054.8C1117.6 2042.4 1116.8 2030 1116 2017.6C1115.2 2005.1 1114.3 1992.5 1113.2 1980C1112.1 1967.7 1111.2 1955.3 1109.5 1943C1107.8 1930.6 1106 1918.2 1103 1906C1100.7 1896.4 1098.2 1886.7 1093.6 1878C1090.7 1872.4 1085.2 1868.7 1081 1864"/>
<path class="a" d="M1135.1 3135.4L1149.2 3134.8L1141.1 3137.8L1147 3140.2L1141.1 3137.8L1144.8 3145.5Z"/>
<circle class="c" cx="1131.2" cy="3133.8" r="4.3"/>
<path class="e" d="M1127.2 3132.2C1126.3 3130.4 1125.4 3128.6 1124.5 3126.8C1121.9 3121.5 1118.6 3116.5 1116.6 3111C1112.8 3100.7 1109.5 3090.3 1107.2 3079.6C1104.3 3066.1 1102.5 3052.4 1100.9 3038.7C1099.1 3023.1 1098.1 3007.3 1097 2991.6C1095.9 2975.9 1094.9 2960.2 1094.6 2944.4C1094.3 2928.6 1094.7 2912.8 1095.2 2897C1095.7 2881.3 1097 2865.7 1097.7 2850C1099.1 2820 1100.4 2790 1101.7 2760C1104.1 2706.7 1106.4 2653.3 1108.8 2600C1110.3 2566.7 1111.7 2533.3 1113.3 2500C1114.1 2483 1115 2466 1116 2449C1116.8 2435.3 1117.7 2421.7 1118.7 2408C1119.3 2399 1120.2 2390 1120.8 2381C1121.8 2367.3 1122.7 2353.7 1123.5 2340C1124 2331 1124.7 2322 1124.9 2313C1125.3 2294.9 1125.3 2276.8 1125.5 2258.7C1125.7 2236.1 1125.6 2213.4 1126.2 2190.8C1126.6 2177.2 1128 2163.6 1128.3 2150C1128.8 2130 1128.8 2110 1128.5 2090C1128.2 2066.7 1127.6 2043.3 1126.5 2020C1125.6 2001.6 1124.5 1983.3 1122.5 1965C1121 1951.6 1119 1938.2 1116 1925C1113.5 1914.1 1110.2 1903.4 1106 1893C1103.2 1885.9 1100 1878.8 1095 1873C1091.4 1868.8 1085.7 1867 1081 1864"/>
<path class="a" d="M1157.3 3647.3L1151 3657L1148.8 3655.6L1155.1 3645.9ZM1156 3653.3L1150.6 3649.9"/>
<circle class="c" cx="1147" cy="3647.5" r="4.3"/>
<path class="e" d="M1143.5 3645.2C1142.4 3643.3 1140.8 3641.7 1140.2 3639.6C1136.6 3628.2 1132.9 3616.8 1130.8 3605C1127.1 3584.2 1125.1 3563.1 1123 3542C1120.9 3521 1119.3 3500 1118.2 3479C1116.6 3447.6 1115.8 3416.2 1115 3384.8C1114.2 3353.3 1113.7 3321.9 1113.5 3290.4C1113.2 3248.5 1113.3 3206.5 1113.5 3164.6C1113.8 3112.1 1114.5 3059.5 1115 3007C1115.5 2954.7 1115.7 2902.3 1116.6 2850C1117.5 2800 1119.3 2750 1120.5 2700C1122.1 2633.3 1123.8 2566.7 1124.9 2500C1125.3 2474 1124.7 2448 1124.9 2422C1125.1 2394.7 1125.5 2367.3 1126 2340C1126.4 2322 1127 2304 1127.6 2286C1128.4 2263.3 1129.7 2240.7 1130.3 2218C1130.9 2195.3 1130.8 2172.7 1131 2150C1131 2143.1 1131 2136.2 1130.9 2129.3C1130.8 2116.9 1130.8 2104.4 1130.5 2092C1130.2 2079.6 1129.7 2067.2 1129 2054.8C1128.3 2042.4 1127.4 2030 1126.2 2017.6C1125 2005 1123.3 1992.5 1121.6 1980C1119.9 1967.6 1118.2 1955.3 1116 1943C1113.8 1930.6 1111.9 1918.1 1108.5 1906C1105.6 1895.7 1103.1 1884.9 1097.3 1876C1093.6 1870.4 1086.4 1868 1081 1864"/>
<path class="a" d="M790.3 261.5L802.2 254.1L796.7 260.7L803 259.8L796.7 260.7L803.8 265.5Z"/>
<circle class="c" cx="786.1" cy="262.1" r="4.3"/>
<path class="e" d="M781.8 262.6C777.9 264.2 773.6 265.2 770 267.5C764.5 271 758.5 274.5 755 280C749.1 289.1 745.1 299.5 742.5 310C739.3 323 738.6 336.6 738 350C736.9 373.3 737.7 396.7 737.5 420C737.4 430 737.9 440 737 450C736.1 459.9 734.9 469.9 732 479.4C729 489 725.9 499.2 719.5 506.9C714.6 512.8 706.9 516.1 699.6 518.4C691.1 521 681.9 520.3 673 521.3"/>
<path class="a" d="M832.7 541L845.6 535.4L839.1 541.1L845.5 541.2L839.1 541.1L845.4 546.9Z"/>
<circle class="c" cx="828.4" cy="541" r="4.3"/>
<path class="e" d="M824.2 541C819.4 540.8 814.7 541 810 540.5C800 539.4 789.9 537.8 780 536C766.6 533.5 753.4 529.8 740 527.5C726.8 525.3 713.4 523.7 700 522.5C691 521.7 682 521.7 673 521.3"/>
<path class="a" d="M822 718L821.6 729.6L819 729.5L819.4 717.9ZM824 723.8L817.6 723.6"/>
<circle class="c" cx="813.3" cy="723.5" r="4.3"/>
<path class="e" d="M809.1 723.4C804.4 721.9 799.2 721.6 795 719C789.2 715.3 783.9 710.6 780 705C774.6 697.4 770.8 688.7 767.5 680C763.2 668.6 760.4 656.8 757.5 645C754.6 633.4 752.3 621.7 750 610C748.1 600 747.5 589.8 745 580C742.4 569.8 739.9 559.3 735 550C731.4 543.2 726.3 537 720 532.5C714.2 528.4 706.9 526.7 700 525C691.2 522.9 682 522.5 673 521.3"/>
<path class="a" d="M771.2 1923.7L783.5 1916.9L777.6 1923.2L784 1922.7L777.6 1923.2L784.5 1928.4Z"/>
<circle class="c" cx="767" cy="1924" r="4.3"/>
<path class="e" d="M762.7 1924.4C757.5 1925.8 751.8 1926.1 747 1928.7C740.6 1932.1 735.1 1937.1 729.6 1942C722.6 1948.3 716.8 1955.9 709.6 1962C703.4 1967.2 697.1 1972.6 689.7 1975.7C681.5 1979.2 672.2 1979.6 663.5 1981.5"/>
<path class="a" d="M1134.5 2433.2L1145.8 2424.9L1140.7 2431.8L1147 2430.5L1140.7 2431.8L1148.2 2436.1Z"/>
<circle class="c" cx="1130.3" cy="2434.1" r="4.3"/>
<path class="e" d="M1126.1 2435C1125.3 2435.6 1124.2 2436 1123.5 2436.8C1121.4 2439.4 1119.2 2442 1118 2445C1116 2449.8 1115.2 2455 1114 2460C1112.5 2466.3 1111.5 2472.7 1110 2479C1108.3 2486 1107.3 2493.3 1104.5 2500C1101.6 2507.1 1097.2 2513.6 1093 2520C1089.2 2525.7 1084.4 2530.8 1080.5 2536.4C1073.6 2546.2 1068.5 2557.4 1060.5 2566.4C1054.9 2572.7 1048.2 2578.4 1040.5 2581.7C1032.3 2585.3 1022.8 2584.9 1014 2586.5"/>
<path class="a" d="M1134.3 2992L1147.7 2987.8L1140.6 2992.8L1147 2993.5L1140.6 2992.8L1146.3 2999.2Z"/>
<circle class="c" cx="1130" cy="2991.5" r="4.3"/>
<path class="e" d="M1125.8 2991C1124.3 2990.7 1122.6 2990.8 1121.3 2990C1117.4 2987.7 1113.4 2985.3 1110.3 2982C1106 2977.3 1101.4 2972.4 1099.3 2966.4C1096.1 2957.4 1095.3 2947.6 1094.6 2938C1093.6 2924.4 1093.8 2910.7 1094 2897C1094.2 2883.3 1095.7 2869.7 1095.5 2856C1095.3 2844 1094.5 2831.9 1092.6 2820C1090.6 2807.5 1085.3 2795.6 1083.8 2783C1081.2 2760.8 1081.4 2738.3 1080.5 2716C1079.8 2700.6 1080.2 2685.1 1079 2669.7C1078 2656.3 1077.4 2642.7 1073.8 2629.7C1071.1 2620.1 1066.9 2610.6 1060.5 2603C1055.4 2596.8 1048 2592.4 1040.5 2589.7C1032.1 2586.7 1022.8 2587.6 1014 2586.5"/>
<text class="r" x="16.5" y="4181" textLength="189.9" lengthAdjust="spacingAndGlyphs">Generated by SchemaSpy</text>
</svg></body></html>
